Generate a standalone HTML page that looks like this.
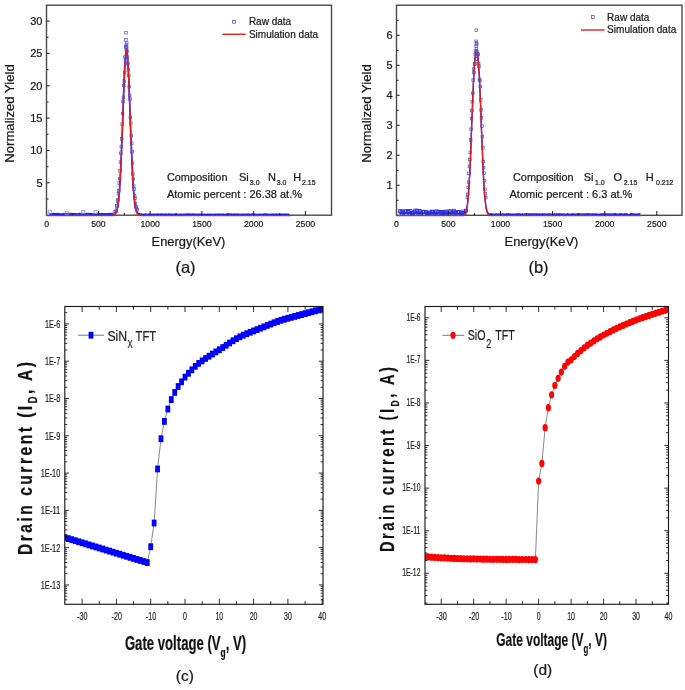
<!DOCTYPE html>
<html><head><meta charset="utf-8"><style>
html,body{margin:0;padding:0;background:#fff;}
svg{display:block;font-family:"Liberation Sans", sans-serif;will-change:transform;}
text{stroke:#222;stroke-width:0.22px;}
</style></head><body>
<svg width="685" height="690" viewBox="0 0 685 690">
<rect width="685" height="690" fill="#fff"/>
<g id="a">
<rect x="46.5" y="5.2" width="285.0" height="210.0" fill="none" stroke="#4a4a4a" stroke-width="1.4"/>
<polyline points="49.3,214.2 49.7,213.7 50.1,213.8 50.5,214.2 50.9,214.0 51.4,214.0 51.8,213.9 52.2,213.8 52.6,214.3 53.0,214.3 53.4,213.7 53.8,214.0 54.3,213.8 54.7,214.3 55.1,214.0 55.5,213.8 55.9,214.2 56.3,213.6 56.7,213.7 57.2,214.3 57.6,214.3 58.0,213.9 58.4,213.6 58.8,214.1 59.2,214.2 59.6,214.0 60.1,214.3 60.5,214.2 60.9,214.0 61.3,214.0 61.7,214.2 62.1,214.2 62.5,214.2 62.9,214.0 63.4,214.1 63.8,214.3 64.2,213.7 64.6,213.9 65.0,213.9 65.4,214.2 65.8,213.6 66.3,213.7 66.7,214.3 67.1,214.1 67.5,213.8 67.9,213.8 68.3,213.6 68.7,214.0 69.2,213.7 69.6,213.8 70.0,214.1 70.4,213.9 70.8,213.7 71.2,213.7 71.6,214.0 72.1,213.9 72.5,214.3 72.9,214.2 73.3,213.8 73.7,214.0 74.1,214.2 74.5,213.9 75.0,213.8 75.4,213.8 75.8,214.1 76.2,214.0 76.6,214.0 77.0,213.8 77.4,214.0 77.9,214.0 78.3,214.0 78.7,214.3 79.1,214.3 79.5,213.8 79.9,213.6 80.3,213.9 80.8,214.0 81.2,214.2 81.6,214.0 82.0,213.6 82.4,213.8 82.8,213.9 83.2,213.7 83.6,214.2 84.1,214.0 84.5,213.6 84.9,213.9 85.3,214.0 85.7,214.1 86.1,213.9 86.5,213.6 87.0,214.3 87.4,213.8 87.8,213.7 88.2,213.7 88.6,213.8 89.0,213.7 89.4,214.0 89.9,213.9 90.3,214.0 90.7,214.3 91.1,213.7 91.5,213.9 91.9,214.2 92.3,214.0 92.8,214.0 93.2,214.1 93.6,214.1 94.0,213.9 94.4,213.9 94.8,213.9 95.2,214.0 95.7,214.3 96.1,214.2 96.5,214.2 96.9,213.9 97.3,213.7 97.7,213.8 98.1,213.8 98.6,213.7 99.0,214.2 99.4,213.7 99.8,213.8 100.2,214.3 100.6,214.3 101.0,214.3 101.5,213.8 101.9,214.2 102.3,214.3 102.7,213.9 103.1,214.1 103.5,214.3 103.9,214.2 104.3,214.0 104.8,214.2 105.2,214.1 105.6,213.8 106.0,214.0 106.4,214.1 106.8,214.0 107.2,214.3 107.7,214.1 108.1,214.0 108.5,214.2 108.9,214.3 109.3,213.7 109.7,214.0 110.1,214.2 110.6,213.9 111.0,213.7 111.4,214.3 111.8,214.3 112.2,214.2 112.6,213.7 113.0,214.1 113.5,213.6 113.9,213.5 114.3,213.9 114.7,213.8 115.1,213.0 115.5,212.6 115.9,212.1 116.4,211.3 116.8,209.9 117.2,208.5 117.6,206.4 118.0,203.9 118.4,200.6 118.8,197.0 119.3,192.2 119.7,186.4 120.1,179.9 120.5,172.8 120.9,164.1 121.3,155.1 121.7,144.7 122.2,134.0 122.6,123.0 123.0,111.7 123.4,100.4 123.8,89.1 124.2,79.3 124.6,69.8 125.0,61.9 125.5,56.0 125.9,52.0 126.3,49.6 126.7,49.5 127.1,51.8 127.5,56.1 127.9,62.2 128.4,70.0 128.8,79.2 129.2,89.2 129.6,100.2 130.0,111.7 130.4,123.1 130.8,134.1 131.3,145.0 131.7,155.0 132.1,164.4 132.5,172.5 132.9,179.9 133.3,186.8 133.7,192.3 134.2,196.9 134.6,200.5 135.0,203.7 135.4,206.5 135.8,208.6 136.2,209.9 136.6,211.0 137.1,211.9 137.5,212.9 137.9,213.1 138.3,213.6 138.7,213.9 139.1,213.8 139.5,214.3 140.0,214.2 140.4,214.6 140.8,214.6 141.2,214.2 141.6,214.6 142.0,214.3 142.4,214.4 142.9,214.3 143.3,214.5 143.7,214.5 144.1,214.6 144.5,214.3 144.9,214.4 145.3,214.2 145.7,214.3 146.2,214.6 146.6,214.4 147.0,214.7 147.4,214.7 147.8,214.7 148.2,214.3 148.6,214.3 149.1,214.3 149.5,214.5 149.9,214.4 150.3,214.3 150.7,214.5 151.1,214.4 151.5,214.6 152.0,214.7 152.4,214.6 152.8,214.3 153.2,214.4 153.6,214.3 154.0,214.5 154.4,214.6 154.9,214.3 155.3,214.3 155.7,214.7 156.1,214.4 156.5,214.7 156.9,214.7 157.3,214.3 157.8,214.7 158.2,214.6 158.6,214.2 159.0,214.5 159.4,214.7 159.8,214.6 160.2,214.6 160.7,214.3 161.1,214.7 161.5,214.3 161.9,214.5 162.3,214.2 162.7,214.3 163.1,214.6 163.6,214.6 164.0,214.5 164.4,214.7 164.8,214.4 165.2,214.7 165.6,214.7 166.0,214.2 166.4,214.6 166.9,214.4 167.3,214.5 167.7,214.6 168.1,214.7 168.5,214.3 168.9,214.2 169.3,214.2 169.8,214.7 170.2,214.6 170.6,214.4 171.0,214.2 171.4,214.4 171.8,214.4 172.2,214.4 172.7,214.6 173.1,214.4 173.5,214.6 173.9,214.6 174.3,214.7 174.7,214.6 175.1,214.2 175.6,214.5 176.0,214.4 176.4,214.4 176.8,214.2 177.2,214.5 177.6,214.6 178.0,214.5 178.5,214.6 178.9,214.3 179.3,214.3 179.7,214.6 180.1,214.5 180.5,214.4 180.9,214.4 181.4,214.4 181.8,214.6 182.2,214.7 182.6,214.6 183.0,214.7 183.4,214.4 183.8,214.7 184.3,214.7 184.7,214.4 185.1,214.6 185.5,214.3 185.9,214.5 186.3,214.3 186.7,214.6 187.1,214.5 187.6,214.3 188.0,214.7 188.4,214.2 188.8,214.6 189.2,214.3 189.6,214.2 190.0,214.3 190.5,214.6 190.9,214.7 191.3,214.5 191.7,214.3 192.1,214.6 192.5,214.3 192.9,214.6 193.4,214.3 193.8,214.7 194.2,214.6 194.6,214.3 195.0,214.3 195.4,214.3 195.8,214.3 196.3,214.3 196.7,214.4 197.1,214.6 197.5,214.5 197.9,214.6 198.3,214.4 198.7,214.4 199.2,214.6 199.6,214.7 200.0,214.2 200.4,214.3 200.8,214.4 201.2,214.4 201.6,214.3 202.1,214.5 202.5,214.5 202.9,214.5 203.3,214.6 203.7,214.7 204.1,214.4 204.5,214.5 205.0,214.4 205.4,214.7 205.8,214.5 206.2,214.6 206.6,214.6 207.0,214.6 207.4,214.3 207.8,214.5 208.3,214.5 208.7,214.4 209.1,214.6 209.5,214.7 209.9,214.4 210.3,214.5 210.7,214.4 211.2,214.5 211.6,214.4 212.0,214.3 212.4,214.6 212.8,214.5 213.2,214.5 213.6,214.6 214.1,214.5 214.5,214.4 214.9,214.3 215.3,214.3 215.7,214.6 216.1,214.4 216.5,214.7 217.0,214.7 217.4,214.5 217.8,214.3 218.2,214.6 218.6,214.3 219.0,214.3 219.4,214.6 219.9,214.4 220.3,214.3 220.7,214.5 221.1,214.4 221.5,214.3 221.9,214.4 222.3,214.3 222.8,214.3 223.2,214.2 223.6,214.4 224.0,214.6 224.4,214.6 224.8,214.6 225.2,214.4 225.7,214.3 226.1,214.7 226.5,214.4 226.9,214.4 227.3,214.5 227.7,214.5 228.1,214.6 228.5,214.3 229.0,214.7 229.4,214.2 229.8,214.3 230.2,214.4 230.6,214.6 231.0,214.3 231.4,214.2 231.9,214.6 232.3,214.3 232.7,214.3 233.1,214.4 233.5,214.4 233.9,214.5 234.3,214.3 234.8,214.2 235.2,214.5 235.6,214.3 236.0,214.5 236.4,214.6 236.8,214.5 237.2,214.6 237.7,214.3 238.1,214.2 238.5,214.6 238.9,214.4 239.3,214.5 239.7,214.7 240.1,214.6 240.6,214.6 241.0,214.3 241.4,214.7 241.8,214.6 242.2,214.5 242.6,214.7 243.0,214.4 243.5,214.4 243.9,214.3 244.3,214.6 244.7,214.6 245.1,214.4 245.5,214.6 245.9,214.4 246.4,214.6 246.8,214.4 247.2,214.3 247.6,214.3 248.0,214.2 248.4,214.4 248.8,214.5 249.2,214.3 249.7,214.3 250.1,214.4 250.5,214.5 250.9,214.6 251.3,214.7 251.7,214.3 252.1,214.7 252.6,214.3 253.0,214.4 253.4,214.2 253.8,214.3 254.2,214.2 254.6,214.6 255.0,214.5 255.5,214.4 255.9,214.6 256.3,214.5 256.7,214.5 257.1,214.4 257.5,214.7 257.9,214.5 258.4,214.5 258.8,214.6 259.2,214.5 259.6,214.3 260.0,214.4 260.4,214.5 260.8,214.4 261.3,214.5 261.7,214.6 262.1,214.7 262.5,214.6 262.9,214.4 263.3,214.3 263.7,214.3 264.2,214.5 264.6,214.2 265.0,214.5 265.4,214.3 265.8,214.5 266.2,214.3 266.6,214.2 267.1,214.6 267.5,214.6 267.9,214.4 268.3,214.4 268.7,214.5 269.1,214.7 269.5,214.5 269.9,214.5 270.4,214.5 270.8,214.3 271.2,214.4 271.6,214.3 272.0,214.3 272.4,214.3 272.8,214.5 273.3,214.3 273.7,214.4 274.1,214.4 274.5,214.4 274.9,214.5 275.3,214.4 275.7,214.4 276.2,214.2 276.6,214.3 277.0,214.3 277.4,214.3 277.8,214.3 278.2,214.4 278.6,214.5 279.1,214.6 279.5,214.4 279.9,214.3 280.3,214.4 280.7,214.6 281.1,214.3 281.5,214.5 282.0,214.5 282.4,214.7 282.8,214.5 283.2,214.3 283.6,214.5 284.0,214.5 284.4,214.4 284.9,214.7 285.3,214.5 285.7,214.2 286.1,214.4 286.5,214.5 286.9,214.4 287.3,214.4 287.8,214.6 288.2,214.6 288.6,214.3 289.0,214.6 289.4,214.7" fill="none" stroke="#2424e0" stroke-width="1.7"/>
<rect x="48.2" y="210.3" width="3" height="3" fill="none" stroke="#9090e0" stroke-width="0.8"/>
<rect x="65.1" y="211.3" width="3" height="3" fill="none" stroke="#9090e0" stroke-width="0.8"/>
<rect x="81.8" y="210.5" width="3" height="3" fill="none" stroke="#9090e0" stroke-width="0.8"/>
<rect x="94.0" y="210.6" width="3" height="3" fill="none" stroke="#9090e0" stroke-width="0.8"/>
<rect x="113.3" y="210.3" width="3" height="3" fill="none" stroke="#9090e0" stroke-width="0.8"/>
<rect x="114.6" y="210.1" width="2.6" height="2.6" fill="none" stroke="#5050d8" stroke-width="0.7"/>
<rect x="115.1" y="208.9" width="2.6" height="2.6" fill="none" stroke="#5050d8" stroke-width="0.7"/>
<rect x="115.5" y="204.6" width="2.6" height="2.6" fill="none" stroke="#5050d8" stroke-width="0.7"/>
<rect x="115.9" y="204.7" width="2.6" height="2.6" fill="none" stroke="#5050d8" stroke-width="0.7"/>
<rect x="116.3" y="199.7" width="2.6" height="2.6" fill="none" stroke="#5050d8" stroke-width="0.7"/>
<rect x="116.7" y="198.6" width="2.6" height="2.6" fill="none" stroke="#5050d8" stroke-width="0.7"/>
<rect x="117.1" y="192.4" width="2.6" height="2.6" fill="none" stroke="#5050d8" stroke-width="0.7"/>
<rect x="117.5" y="189.4" width="2.6" height="2.6" fill="none" stroke="#5050d8" stroke-width="0.7"/>
<rect x="118.0" y="181.7" width="2.6" height="2.6" fill="none" stroke="#5050d8" stroke-width="0.7"/>
<rect x="118.4" y="177.5" width="2.6" height="2.6" fill="none" stroke="#5050d8" stroke-width="0.7"/>
<rect x="118.8" y="169.5" width="2.6" height="2.6" fill="none" stroke="#5050d8" stroke-width="0.7"/>
<rect x="119.2" y="160.8" width="2.6" height="2.6" fill="none" stroke="#5050d8" stroke-width="0.7"/>
<rect x="119.6" y="151.9" width="2.6" height="2.6" fill="none" stroke="#5050d8" stroke-width="0.7"/>
<rect x="120.0" y="145.2" width="2.6" height="2.6" fill="none" stroke="#5050d8" stroke-width="0.7"/>
<rect x="120.4" y="137.6" width="2.6" height="2.6" fill="none" stroke="#5050d8" stroke-width="0.7"/>
<rect x="120.9" y="122.8" width="2.6" height="2.6" fill="none" stroke="#5050d8" stroke-width="0.7"/>
<rect x="121.3" y="112.3" width="2.6" height="2.6" fill="none" stroke="#5050d8" stroke-width="0.7"/>
<rect x="121.7" y="100.3" width="2.6" height="2.6" fill="none" stroke="#5050d8" stroke-width="0.7"/>
<rect x="122.1" y="96.0" width="2.6" height="2.6" fill="none" stroke="#5050d8" stroke-width="0.7"/>
<rect x="122.5" y="84.2" width="2.6" height="2.6" fill="none" stroke="#5050d8" stroke-width="0.7"/>
<rect x="122.9" y="79.7" width="2.6" height="2.6" fill="none" stroke="#5050d8" stroke-width="0.7"/>
<rect x="123.3" y="71.2" width="2.6" height="2.6" fill="none" stroke="#5050d8" stroke-width="0.7"/>
<rect x="123.7" y="55.8" width="2.6" height="2.6" fill="none" stroke="#5050d8" stroke-width="0.7"/>
<rect x="124.2" y="59.7" width="2.6" height="2.6" fill="none" stroke="#5050d8" stroke-width="0.7"/>
<rect x="124.6" y="45.3" width="2.6" height="2.6" fill="none" stroke="#5050d8" stroke-width="0.7"/>
<rect x="125.0" y="48.2" width="2.6" height="2.6" fill="none" stroke="#5050d8" stroke-width="0.7"/>
<rect x="125.4" y="45.9" width="2.6" height="2.6" fill="none" stroke="#5050d8" stroke-width="0.7"/>
<rect x="125.8" y="49.8" width="2.6" height="2.6" fill="none" stroke="#5050d8" stroke-width="0.7"/>
<rect x="126.2" y="55.8" width="2.6" height="2.6" fill="none" stroke="#5050d8" stroke-width="0.7"/>
<rect x="126.6" y="62.3" width="2.6" height="2.6" fill="none" stroke="#5050d8" stroke-width="0.7"/>
<rect x="127.1" y="68.4" width="2.6" height="2.6" fill="none" stroke="#5050d8" stroke-width="0.7"/>
<rect x="127.5" y="74.3" width="2.6" height="2.6" fill="none" stroke="#5050d8" stroke-width="0.7"/>
<rect x="127.9" y="85.4" width="2.6" height="2.6" fill="none" stroke="#5050d8" stroke-width="0.7"/>
<rect x="128.3" y="94.1" width="2.6" height="2.6" fill="none" stroke="#5050d8" stroke-width="0.7"/>
<rect x="128.7" y="97.7" width="2.6" height="2.6" fill="none" stroke="#5050d8" stroke-width="0.7"/>
<rect x="129.1" y="116.1" width="2.6" height="2.6" fill="none" stroke="#5050d8" stroke-width="0.7"/>
<rect x="129.5" y="121.9" width="2.6" height="2.6" fill="none" stroke="#5050d8" stroke-width="0.7"/>
<rect x="130.0" y="134.6" width="2.6" height="2.6" fill="none" stroke="#5050d8" stroke-width="0.7"/>
<rect x="130.4" y="142.0" width="2.6" height="2.6" fill="none" stroke="#5050d8" stroke-width="0.7"/>
<rect x="130.8" y="150.6" width="2.6" height="2.6" fill="none" stroke="#5050d8" stroke-width="0.7"/>
<rect x="131.2" y="162.0" width="2.6" height="2.6" fill="none" stroke="#5050d8" stroke-width="0.7"/>
<rect x="131.6" y="172.7" width="2.6" height="2.6" fill="none" stroke="#5050d8" stroke-width="0.7"/>
<rect x="132.0" y="177.9" width="2.6" height="2.6" fill="none" stroke="#5050d8" stroke-width="0.7"/>
<rect x="132.4" y="184.8" width="2.6" height="2.6" fill="none" stroke="#5050d8" stroke-width="0.7"/>
<rect x="132.9" y="187.7" width="2.6" height="2.6" fill="none" stroke="#5050d8" stroke-width="0.7"/>
<rect x="133.3" y="194.4" width="2.6" height="2.6" fill="none" stroke="#5050d8" stroke-width="0.7"/>
<rect x="133.7" y="197.0" width="2.6" height="2.6" fill="none" stroke="#5050d8" stroke-width="0.7"/>
<rect x="134.1" y="202.1" width="2.6" height="2.6" fill="none" stroke="#5050d8" stroke-width="0.7"/>
<rect x="134.5" y="205.4" width="2.6" height="2.6" fill="none" stroke="#5050d8" stroke-width="0.7"/>
<rect x="134.9" y="205.8" width="2.6" height="2.6" fill="none" stroke="#5050d8" stroke-width="0.7"/>
<rect x="135.3" y="207.1" width="2.6" height="2.6" fill="none" stroke="#5050d8" stroke-width="0.7"/>
<rect x="135.8" y="208.6" width="2.6" height="2.6" fill="none" stroke="#5050d8" stroke-width="0.7"/>
<rect x="124.7" y="31.4" width="2.6" height="2.6" fill="none" stroke="#5050d8" stroke-width="0.7"/>
<rect x="124.6" y="38.6" width="2.6" height="2.6" fill="none" stroke="#5050d8" stroke-width="0.7"/>
<rect x="124.9" y="43.7" width="2.6" height="2.6" fill="none" stroke="#5050d8" stroke-width="0.7"/>
<rect x="125.4" y="41.8" width="2.6" height="2.6" fill="none" stroke="#5050d8" stroke-width="0.7"/>
<rect x="125.1" y="46.3" width="2.6" height="2.6" fill="none" stroke="#5050d8" stroke-width="0.7"/>
<polyline points="46.7,215.6 46.9,215.6 47.1,215.6 47.3,215.6 47.5,215.6 47.7,215.6 47.9,215.6 48.1,215.6 48.4,215.6 48.6,215.6 48.8,215.6 49.0,215.6 49.2,215.6 49.4,215.6 49.6,215.6 49.8,215.6 50.0,215.6 50.2,215.6 50.4,215.6 50.6,215.6 50.8,215.6 51.0,215.6 51.3,215.6 51.5,215.6 51.7,215.6 51.9,215.6 52.1,215.6 52.3,215.6 52.5,215.6 52.7,215.6 52.9,215.6 53.1,215.6 53.3,215.6 53.5,215.6 53.7,215.6 53.9,215.6 54.2,215.6 54.4,215.6 54.6,215.6 54.8,215.6 55.0,215.6 55.2,215.6 55.4,215.6 55.6,215.6 55.8,215.6 56.0,215.6 56.2,215.6 56.4,215.6 56.6,215.6 56.8,215.6 57.1,215.6 57.3,215.6 57.5,215.6 57.7,215.6 57.9,215.6 58.1,215.6 58.3,215.6 58.5,215.6 58.7,215.6 58.9,215.6 59.1,215.6 59.3,215.6 59.5,215.6 59.7,215.6 59.9,215.6 60.2,215.6 60.4,215.6 60.6,215.6 60.8,215.6 61.0,215.6 61.2,215.6 61.4,215.6 61.6,215.6 61.8,215.6 62.0,215.6 62.2,215.6 62.4,215.6 62.6,215.6 62.8,215.6 63.1,215.6 63.3,215.6 63.5,215.6 63.7,215.6 63.9,215.6 64.1,215.6 64.3,215.6 64.5,215.6 64.7,215.6 64.9,215.6 65.1,215.6 65.3,215.6 65.5,215.6 65.7,215.6 66.0,215.6 66.2,215.6 66.4,215.6 66.6,215.6 66.8,215.6 67.0,215.6 67.2,215.6 67.4,215.6 67.6,215.6 67.8,215.6 68.0,215.6 68.2,215.6 68.4,215.6 68.6,215.6 68.8,215.6 69.1,215.6 69.3,215.6 69.5,215.6 69.7,215.6 69.9,215.6 70.1,215.6 70.3,215.6 70.5,215.6 70.7,215.6 70.9,215.6 71.1,215.6 71.3,215.6 71.5,215.6 71.7,215.6 72.0,215.6 72.2,215.6 72.4,215.6 72.6,215.6 72.8,215.6 73.0,215.6 73.2,215.6 73.4,215.6 73.6,215.6 73.8,215.6 74.0,215.6 74.2,215.6 74.4,215.6 74.6,215.6 74.9,215.6 75.1,215.6 75.3,215.6 75.5,215.6 75.7,215.6 75.9,215.6 76.1,215.6 76.3,215.6 76.5,215.6 76.7,215.6 76.9,215.6 77.1,215.6 77.3,215.6 77.5,215.6 77.8,215.6 78.0,215.6 78.2,215.6 78.4,215.6 78.6,215.6 78.8,215.6 79.0,215.6 79.2,215.6 79.4,215.6 79.6,215.6 79.8,215.6 80.0,215.6 80.2,215.6 80.4,215.6 80.6,215.6 80.9,215.6 81.1,215.6 81.3,215.6 81.5,215.6 81.7,215.6 81.9,215.6 82.1,215.6 82.3,215.6 82.5,215.6 82.7,215.6 82.9,215.6 83.1,215.6 83.3,215.6 83.5,215.6 83.8,215.6 84.0,215.6 84.2,215.6 84.4,215.6 84.6,215.6 84.8,215.6 85.0,215.6 85.2,215.6 85.4,215.6 85.6,215.6 85.8,215.6 86.0,215.6 86.2,215.6 86.4,215.6 86.7,215.6 86.9,215.6 87.1,215.6 87.3,215.6 87.5,215.6 87.7,215.6 87.9,215.6 88.1,215.6 88.3,215.6 88.5,215.6 88.7,215.6 88.9,215.6 89.1,215.6 89.3,215.6 89.5,215.6 89.8,215.6 90.0,215.6 90.2,215.6 90.4,215.6 90.6,215.6 90.8,215.6 91.0,215.6 91.2,215.6 91.4,215.6 91.6,215.6 91.8,215.6 92.0,215.6 92.2,215.6 92.4,215.6 92.7,215.6 92.9,215.6 93.1,215.6 93.3,215.6 93.5,215.6 93.7,215.6 93.9,215.6 94.1,215.6 94.3,215.6 94.5,215.6 94.7,215.6 94.9,215.6 95.1,215.6 95.3,215.6 95.6,215.6 95.8,215.6 96.0,215.6 96.2,215.6 96.4,215.6 96.6,215.6 96.8,215.6 97.0,215.6 97.2,215.6 97.4,215.6 97.6,215.6 97.8,215.6 98.0,215.6 98.2,215.6 98.5,215.6 98.7,215.6 98.9,215.6 99.1,215.6 99.3,215.6 99.5,215.6 99.7,215.6 99.9,215.6 100.1,215.6 100.3,215.6 100.5,215.6 100.7,215.6 100.9,215.6 101.1,215.6 101.3,215.6 101.6,215.6 101.8,215.6 102.0,215.6 102.2,215.6 102.4,215.6 102.6,215.6 102.8,215.6 103.0,215.6 103.2,215.6 103.4,215.6 103.6,215.6 103.8,215.6 104.0,215.6 104.2,215.6 104.5,215.6 104.7,215.6 104.9,215.6 105.1,215.6 105.3,215.6 105.5,215.6 105.7,215.6 105.9,215.6 106.1,215.6 106.3,215.6 106.5,215.6 106.7,215.6 106.9,215.6 107.1,215.6 107.4,215.6 107.6,215.6 107.8,215.6 108.0,215.6 108.2,215.6 108.4,215.6 108.6,215.6 108.8,215.6 109.0,215.6 109.2,215.6 109.4,215.6 109.6,215.6 109.8,215.6 110.0,215.6 110.2,215.6 110.5,215.6 110.7,215.6 110.9,215.6 111.1,215.6 111.3,215.6 111.5,215.6 111.7,215.6 111.9,215.6 112.1,215.5 112.3,215.5 112.5,215.5 112.7,215.5 112.9,215.5 113.1,215.4 113.4,215.4 113.6,215.3 113.8,215.3 114.0,215.2 114.2,215.1 114.4,215.0 114.6,214.9 114.8,214.7 115.0,214.5 115.2,214.3 115.4,214.1 115.6,213.8 115.8,213.4 116.0,213.0 116.3,212.6 116.5,212.1 116.7,211.5 116.9,210.8 117.1,210.0 117.3,209.1 117.5,208.1 117.7,207.0 117.9,205.7 118.1,204.3 118.3,202.7 118.5,200.9 118.7,199.0 118.9,196.9 119.2,194.5 119.4,192.0 119.6,189.2 119.8,186.2 120.0,182.9 120.2,179.5 120.4,175.8 120.6,171.8 120.8,167.6 121.0,163.2 121.2,158.5 121.4,153.7 121.6,148.6 121.8,143.4 122.0,138.0 122.3,132.5 122.5,126.9 122.7,121.2 122.9,115.5 123.1,109.8 123.3,104.1 123.5,98.6 123.7,93.1 123.9,87.8 124.1,82.7 124.3,77.8 124.5,73.2 124.7,69.0 124.9,65.1 125.2,61.6 125.4,58.6 125.6,56.0 125.8,53.9 126.0,52.3 126.2,51.2 126.4,50.7 126.6,50.7 126.8,51.2 127.0,52.3 127.2,53.9 127.4,56.0 127.6,58.6 127.8,61.6 128.1,65.1 128.3,69.0 128.5,73.2 128.7,77.8 128.9,82.7 129.1,87.8 129.3,93.1 129.5,98.6 129.7,104.1 129.9,109.8 130.1,115.5 130.3,121.2 130.5,126.9 130.7,132.5 130.9,138.0 131.2,143.4 131.4,148.6 131.6,153.7 131.8,158.5 132.0,163.2 132.2,167.6 132.4,171.8 132.6,175.8 132.8,179.5 133.0,182.9 133.2,186.2 133.4,189.2 133.6,192.0 133.8,194.5 134.1,196.9 134.3,199.0 134.5,200.9 134.7,202.7 134.9,204.3 135.1,205.7 135.3,207.0 135.5,208.1 135.7,209.1 135.9,210.0 136.1,210.8 136.3,211.5 136.5,212.1 136.7,212.6 137.0,213.0 137.2,213.4 137.4,213.8 137.6,214.1 137.8,214.3 138.0,214.5 138.2,214.7 138.4,214.9 138.6,215.0 138.8,215.1 139.0,215.2 139.2,215.3 139.4,215.3 139.6,215.4 139.8,215.4 140.1,215.5 140.3,215.5 140.5,215.5 140.7,215.5 140.9,215.5 141.1,215.6 141.3,215.6 141.5,215.6 141.7,215.6 141.9,215.6 142.1,215.6 142.3,215.6 142.5,215.6 142.7,215.6 143.0,215.6 143.2,215.6 143.4,215.6 143.6,215.6 143.8,215.6 144.0,215.6 144.2,215.6 144.4,215.6 144.6,215.6 144.8,215.6 145.0,215.6 145.2,215.6 145.4,215.6 145.6,215.6 145.9,215.6 146.1,215.6 146.3,215.6 146.5,215.6 146.7,215.6 146.9,215.6 147.1,215.6 147.3,215.6 147.5,215.6 147.7,215.6 147.9,215.6 148.1,215.6 148.3,215.6 148.5,215.6 148.8,215.6 149.0,215.6 149.2,215.6 149.4,215.6 149.6,215.6 149.8,215.6 150.0,215.6 150.2,215.6 150.4,215.6 150.6,215.6 150.8,215.6 151.0,215.6 151.2,215.6 151.4,215.6 151.6,215.6 151.9,215.6 152.1,215.6 152.3,215.6 152.5,215.6 152.7,215.6 152.9,215.6 153.1,215.6 153.3,215.6 153.5,215.6 153.7,215.6 153.9,215.6 154.1,215.6 154.3,215.6 154.5,215.6 154.8,215.6 155.0,215.6 155.2,215.6 155.4,215.6 155.6,215.6 155.8,215.6 156.0,215.6 156.2,215.6 156.4,215.6 156.6,215.6 156.8,215.6 157.0,215.6 157.2,215.6 157.4,215.6 157.7,215.6 157.9,215.6 158.1,215.6 158.3,215.6 158.5,215.6 158.7,215.6 158.9,215.6 159.1,215.6 159.3,215.6 159.5,215.6 159.7,215.6 159.9,215.6 160.1,215.6 160.3,215.6 160.6,215.6 160.8,215.6 161.0,215.6 161.2,215.6 161.4,215.6 161.6,215.6 161.8,215.6 162.0,215.6 162.2,215.6 162.4,215.6 162.6,215.6 162.8,215.6 163.0,215.6 163.2,215.6 163.4,215.6 163.7,215.6 163.9,215.6 164.1,215.6 164.3,215.6 164.5,215.6 164.7,215.6 164.9,215.6 165.1,215.6 165.3,215.6 165.5,215.6 165.7,215.6 165.9,215.6 166.1,215.6 166.3,215.6 166.6,215.6 166.8,215.6 167.0,215.6 167.2,215.6 167.4,215.6 167.6,215.6 167.8,215.6 168.0,215.6 168.2,215.6 168.4,215.6 168.6,215.6 168.8,215.6 169.0,215.6 169.2,215.6 169.5,215.6 169.7,215.6 169.9,215.6 170.1,215.6 170.3,215.6 170.5,215.6 170.7,215.6 170.9,215.6 171.1,215.6 171.3,215.6 171.5,215.6 171.7,215.6 171.9,215.6 172.1,215.6 172.3,215.6 172.6,215.6 172.8,215.6 173.0,215.6 173.2,215.6 173.4,215.6 173.6,215.6 173.8,215.6 174.0,215.6 174.2,215.6 174.4,215.6 174.6,215.6 174.8,215.6 175.0,215.6 175.2,215.6 175.5,215.6 175.7,215.6 175.9,215.6 176.1,215.6 176.3,215.6 176.5,215.6 176.7,215.6 176.9,215.6 177.1,215.6 177.3,215.6 177.5,215.6 177.7,215.6 177.9,215.6 178.1,215.6 178.4,215.6 178.6,215.6 178.8,215.6 179.0,215.6 179.2,215.6 179.4,215.6 179.6,215.6 179.8,215.6 180.0,215.6 180.2,215.6 180.4,215.6 180.6,215.6 180.8,215.6 181.0,215.6 181.2,215.6 181.5,215.6 181.7,215.6 181.9,215.6 182.1,215.6 182.3,215.6 182.5,215.6 182.7,215.6 182.9,215.6 183.1,215.6 183.3,215.6 183.5,215.6 183.7,215.6 183.9,215.6 184.1,215.6 184.4,215.6 184.6,215.6 184.8,215.6 185.0,215.6 185.2,215.6 185.4,215.6 185.6,215.6 185.8,215.6 186.0,215.6 186.2,215.6 186.4,215.6 186.6,215.6 186.8,215.6 187.0,215.6 187.3,215.6 187.5,215.6 187.7,215.6 187.9,215.6 188.1,215.6 188.3,215.6 188.5,215.6 188.7,215.6 188.9,215.6 189.1,215.6 189.3,215.6 189.5,215.6 189.7,215.6 189.9,215.6 190.2,215.6 190.4,215.6 190.6,215.6 190.8,215.6 191.0,215.6 191.2,215.6 191.4,215.6 191.6,215.6 191.8,215.6 192.0,215.6 192.2,215.6 192.4,215.6 192.6,215.6 192.8,215.6 193.0,215.6 193.3,215.6 193.5,215.6 193.7,215.6 193.9,215.6 194.1,215.6 194.3,215.6 194.5,215.6 194.7,215.6 194.9,215.6 195.1,215.6 195.3,215.6 195.5,215.6 195.7,215.6 195.9,215.6 196.2,215.6 196.4,215.6 196.6,215.6 196.8,215.6 197.0,215.6 197.2,215.6 197.4,215.6 197.6,215.6 197.8,215.6 198.0,215.6 198.2,215.6 198.4,215.6 198.6,215.6 198.8,215.6 199.1,215.6 199.3,215.6 199.5,215.6 199.7,215.6 199.9,215.6 200.1,215.6 200.3,215.6 200.5,215.6 200.7,215.6 200.9,215.6 201.1,215.6 201.3,215.6 201.5,215.6 201.7,215.6 201.9,215.6 202.2,215.6 202.4,215.6 202.6,215.6 202.8,215.6 203.0,215.6 203.2,215.6 203.4,215.6 203.6,215.6 203.8,215.6 204.0,215.6 204.2,215.6 204.4,215.6 204.6,215.6 204.8,215.6 205.1,215.6 205.3,215.6 205.5,215.6 205.7,215.6 205.9,215.6 206.1,215.6 206.3,215.6 206.5,215.6 206.7,215.6 206.9,215.6 207.1,215.6 207.3,215.6 207.5,215.6 207.7,215.6 208.0,215.6 208.2,215.6 208.4,215.6 208.6,215.6 208.8,215.6 209.0,215.6 209.2,215.6 209.4,215.6 209.6,215.6 209.8,215.6 210.0,215.6 210.2,215.6 210.4,215.6 210.6,215.6 210.9,215.6 211.1,215.6 211.3,215.6 211.5,215.6 211.7,215.6 211.9,215.6 212.1,215.6 212.3,215.6 212.5,215.6 212.7,215.6 212.9,215.6 213.1,215.6 213.3,215.6 213.5,215.6 213.7,215.6 214.0,215.6 214.2,215.6 214.4,215.6 214.6,215.6 214.8,215.6 215.0,215.6 215.2,215.6 215.4,215.6 215.6,215.6 215.8,215.6 216.0,215.6 216.2,215.6 216.4,215.6 216.6,215.6 216.9,215.6 217.1,215.6 217.3,215.6 217.5,215.6 217.7,215.6 217.9,215.6 218.1,215.6 218.3,215.6 218.5,215.6 218.7,215.6 218.9,215.6 219.1,215.6 219.3,215.6 219.5,215.6 219.8,215.6 220.0,215.6 220.2,215.6 220.4,215.6 220.6,215.6 220.8,215.6 221.0,215.6 221.2,215.6 221.4,215.6 221.6,215.6 221.8,215.6 222.0,215.6 222.2,215.6 222.4,215.6 222.6,215.6 222.9,215.6 223.1,215.6 223.3,215.6 223.5,215.6 223.7,215.6 223.9,215.6 224.1,215.6 224.3,215.6 224.5,215.6 224.7,215.6 224.9,215.6 225.1,215.6 225.3,215.6 225.5,215.6 225.8,215.6 226.0,215.6 226.2,215.6 226.4,215.6 226.6,215.6 226.8,215.6 227.0,215.6 227.2,215.6 227.4,215.6 227.6,215.6 227.8,215.6 228.0,215.6 228.2,215.6 228.4,215.6 228.7,215.6 228.9,215.6 229.1,215.6 229.3,215.6 229.5,215.6 229.7,215.6 229.9,215.6 230.1,215.6 230.3,215.6 230.5,215.6 230.7,215.6 230.9,215.6 231.1,215.6 231.3,215.6 231.6,215.6 231.8,215.6 232.0,215.6 232.2,215.6 232.4,215.6 232.6,215.6 232.8,215.6 233.0,215.6 233.2,215.6 233.4,215.6 233.6,215.6 233.8,215.6 234.0,215.6 234.2,215.6 234.4,215.6 234.7,215.6 234.9,215.6 235.1,215.6 235.3,215.6 235.5,215.6 235.7,215.6 235.9,215.6 236.1,215.6 236.3,215.6 236.5,215.6 236.7,215.6 236.9,215.6 237.1,215.6 237.3,215.6 237.6,215.6 237.8,215.6 238.0,215.6 238.2,215.6 238.4,215.6 238.6,215.6 238.8,215.6 239.0,215.6 239.2,215.6 239.4,215.6 239.6,215.6 239.8,215.6 240.0,215.6 240.2,215.6 240.5,215.6 240.7,215.6 240.9,215.6 241.1,215.6 241.3,215.6 241.5,215.6 241.7,215.6 241.9,215.6 242.1,215.6 242.3,215.6 242.5,215.6 242.7,215.6 242.9,215.6 243.1,215.6 243.3,215.6 243.6,215.6 243.8,215.6 244.0,215.6 244.2,215.6 244.4,215.6 244.6,215.6 244.8,215.6 245.0,215.6 245.2,215.6 245.4,215.6 245.6,215.6 245.8,215.6 246.0,215.6 246.2,215.6 246.5,215.6 246.7,215.6 246.9,215.6 247.1,215.6 247.3,215.6 247.5,215.6 247.7,215.6 247.9,215.6 248.1,215.6 248.3,215.6 248.5,215.6 248.7,215.6 248.9,215.6 249.1,215.6 249.4,215.6 249.6,215.6 249.8,215.6 250.0,215.6 250.2,215.6 250.4,215.6 250.6,215.6 250.8,215.6 251.0,215.6 251.2,215.6 251.4,215.6 251.6,215.6 251.8,215.6 252.0,215.6 252.3,215.6 252.5,215.6 252.7,215.6 252.9,215.6 253.1,215.6 253.3,215.6 253.5,215.6 253.7,215.6 253.9,215.6 254.1,215.6 254.3,215.6 254.5,215.6 254.7,215.6 254.9,215.6 255.1,215.6 255.4,215.6 255.6,215.6 255.8,215.6 256.0,215.6 256.2,215.6 256.4,215.6 256.6,215.6 256.8,215.6 257.0,215.6 257.2,215.6 257.4,215.6 257.6,215.6 257.8,215.6 258.0,215.6 258.3,215.6 258.5,215.6 258.7,215.6 258.9,215.6 259.1,215.6 259.3,215.6 259.5,215.6 259.7,215.6 259.9,215.6 260.1,215.6 260.3,215.6 260.5,215.6 260.7,215.6 260.9,215.6 261.2,215.6 261.4,215.6 261.6,215.6 261.8,215.6 262.0,215.6 262.2,215.6 262.4,215.6 262.6,215.6 262.8,215.6 263.0,215.6 263.2,215.6 263.4,215.6 263.6,215.6 263.8,215.6 264.1,215.6 264.3,215.6 264.5,215.6 264.7,215.6 264.9,215.6 265.1,215.6 265.3,215.6 265.5,215.6 265.7,215.6 265.9,215.6 266.1,215.6 266.3,215.6 266.5,215.6 266.7,215.6 266.9,215.6 267.2,215.6 267.4,215.6 267.6,215.6 267.8,215.6 268.0,215.6 268.2,215.6 268.4,215.6 268.6,215.6 268.8,215.6 269.0,215.6 269.2,215.6 269.4,215.6 269.6,215.6 269.8,215.6 270.1,215.6 270.3,215.6 270.5,215.6 270.7,215.6 270.9,215.6 271.1,215.6 271.3,215.6 271.5,215.6 271.7,215.6 271.9,215.6 272.1,215.6 272.3,215.6 272.5,215.6 272.7,215.6 273.0,215.6 273.2,215.6 273.4,215.6 273.6,215.6 273.8,215.6 274.0,215.6 274.2,215.6 274.4,215.6 274.6,215.6 274.8,215.6 275.0,215.6 275.2,215.6 275.4,215.6 275.6,215.6 275.8,215.6 276.1,215.6 276.3,215.6 276.5,215.6 276.7,215.6 276.9,215.6 277.1,215.6 277.3,215.6 277.5,215.6 277.7,215.6 277.9,215.6 278.1,215.6 278.3,215.6 278.5,215.6 278.7,215.6 279.0,215.6 279.2,215.6 279.4,215.6 279.6,215.6 279.8,215.6 280.0,215.6 280.2,215.6 280.4,215.6 280.6,215.6 280.8,215.6 281.0,215.6 281.2,215.6 281.4,215.6 281.6,215.6 281.9,215.6 282.1,215.6 282.3,215.6 282.5,215.6 282.7,215.6 282.9,215.6 283.1,215.6 283.3,215.6 283.5,215.6 283.7,215.6 283.9,215.6 284.1,215.6 284.3,215.6 284.5,215.6 284.8,215.6 285.0,215.6 285.2,215.6 285.4,215.6 285.6,215.6 285.8,215.6 286.0,215.6 286.2,215.6 286.4,215.6 286.6,215.6 286.8,215.6 287.0,215.6 287.2,215.6 287.4,215.6 287.6,215.6 287.9,215.6 288.1,215.6 288.3,215.6 288.5,215.6 288.7,215.6 288.9,215.6 289.1,215.6 289.3,215.6 289.5,215.6 289.7,215.6 289.9,215.6 290.1,215.6 290.3,215.6" fill="none" stroke="#e01f1f" stroke-width="1.3"/>
<text x="46.70" y="227.30" font-size="9.8" text-anchor="middle" font-weight="normal" fill="#161616" textLength="4.85" lengthAdjust="spacingAndGlyphs">0</text>
<line x1="72.6" y1="215.2" x2="72.6" y2="213.0" stroke="#2a2a2a" stroke-width="1.1"/>
<line x1="98.5" y1="215.2" x2="98.5" y2="211.0" stroke="#2a2a2a" stroke-width="1.1"/>
<text x="98.45" y="227.30" font-size="9.8" text-anchor="middle" font-weight="normal" fill="#161616" textLength="14.549999999999999" lengthAdjust="spacingAndGlyphs">500</text>
<line x1="124.3" y1="215.2" x2="124.3" y2="213.0" stroke="#2a2a2a" stroke-width="1.1"/>
<line x1="150.2" y1="215.2" x2="150.2" y2="211.0" stroke="#2a2a2a" stroke-width="1.1"/>
<text x="150.20" y="227.30" font-size="9.8" text-anchor="middle" font-weight="normal" fill="#161616" textLength="19.4" lengthAdjust="spacingAndGlyphs">1000</text>
<line x1="176.1" y1="215.2" x2="176.1" y2="213.0" stroke="#2a2a2a" stroke-width="1.1"/>
<line x1="201.9" y1="215.2" x2="201.9" y2="211.0" stroke="#2a2a2a" stroke-width="1.1"/>
<text x="201.95" y="227.30" font-size="9.8" text-anchor="middle" font-weight="normal" fill="#161616" textLength="19.4" lengthAdjust="spacingAndGlyphs">1500</text>
<line x1="227.8" y1="215.2" x2="227.8" y2="213.0" stroke="#2a2a2a" stroke-width="1.1"/>
<line x1="253.7" y1="215.2" x2="253.7" y2="211.0" stroke="#2a2a2a" stroke-width="1.1"/>
<text x="253.70" y="227.30" font-size="9.8" text-anchor="middle" font-weight="normal" fill="#161616" textLength="19.4" lengthAdjust="spacingAndGlyphs">2000</text>
<line x1="279.6" y1="215.2" x2="279.6" y2="213.0" stroke="#2a2a2a" stroke-width="1.1"/>
<line x1="305.4" y1="215.2" x2="305.4" y2="211.0" stroke="#2a2a2a" stroke-width="1.1"/>
<text x="305.45" y="227.30" font-size="9.8" text-anchor="middle" font-weight="normal" fill="#161616" textLength="19.4" lengthAdjust="spacingAndGlyphs">2500</text>
<line x1="46.5" y1="182.8" x2="49.7" y2="182.8" stroke="#2a2a2a" stroke-width="1.1"/>
<text x="42.50" y="186.65" font-size="11" text-anchor="end" font-weight="normal" fill="#161616">5</text>
<line x1="46.5" y1="150.5" x2="49.7" y2="150.5" stroke="#2a2a2a" stroke-width="1.1"/>
<text x="42.50" y="154.30" font-size="11" text-anchor="end" font-weight="normal" fill="#161616">10</text>
<line x1="46.5" y1="118.1" x2="49.7" y2="118.1" stroke="#2a2a2a" stroke-width="1.1"/>
<text x="42.50" y="121.95" font-size="11" text-anchor="end" font-weight="normal" fill="#161616">15</text>
<line x1="46.5" y1="85.8" x2="49.7" y2="85.8" stroke="#2a2a2a" stroke-width="1.1"/>
<text x="42.50" y="89.60" font-size="11" text-anchor="end" font-weight="normal" fill="#161616">20</text>
<line x1="46.5" y1="53.4" x2="49.7" y2="53.4" stroke="#2a2a2a" stroke-width="1.1"/>
<text x="42.50" y="57.25" font-size="11" text-anchor="end" font-weight="normal" fill="#161616">25</text>
<line x1="46.5" y1="21.1" x2="49.7" y2="21.1" stroke="#2a2a2a" stroke-width="1.1"/>
<text x="42.50" y="24.90" font-size="11" text-anchor="end" font-weight="normal" fill="#161616">30</text>
<line x1="46.5" y1="199.0" x2="48.5" y2="199.0" stroke="#2a2a2a" stroke-width="1.1"/>
<line x1="46.5" y1="166.7" x2="48.5" y2="166.7" stroke="#2a2a2a" stroke-width="1.1"/>
<line x1="46.5" y1="134.3" x2="48.5" y2="134.3" stroke="#2a2a2a" stroke-width="1.1"/>
<line x1="46.5" y1="102.0" x2="48.5" y2="102.0" stroke="#2a2a2a" stroke-width="1.1"/>
<line x1="46.5" y1="69.6" x2="48.5" y2="69.6" stroke="#2a2a2a" stroke-width="1.1"/>
<line x1="46.5" y1="37.3" x2="48.5" y2="37.3" stroke="#2a2a2a" stroke-width="1.1"/>
</g>
<g id="b">
<rect x="396.5" y="5.2" width="285.5" height="210.10000000000002" fill="none" stroke="#4a4a4a" stroke-width="1.4"/>
<polyline points="399.4,213.0 399.8,213.0 400.3,214.0 400.7,213.9 401.1,213.1 401.5,213.2 401.9,213.3 402.3,213.7 402.8,213.4 403.2,213.4 403.6,213.4 404.0,213.9 404.4,213.6 404.8,213.6 405.3,213.3 405.7,213.0 406.1,213.0 406.5,213.5 406.9,213.6 407.3,213.8 407.8,214.0 408.2,214.0 408.6,213.5 409.0,213.7 409.4,213.6 409.8,213.1 410.3,213.5 410.7,213.4 411.1,213.8 411.5,214.0 411.9,213.7 412.3,213.9 412.8,213.5 413.2,213.0 413.6,213.3 414.0,213.8 414.4,213.1 414.8,213.2 415.3,213.2 415.7,213.1 416.1,213.2 416.5,213.2 416.9,213.7 417.3,213.0 417.8,213.0 418.2,213.9 418.6,213.2 419.0,213.3 419.4,213.5 419.8,213.5 420.3,213.5 420.7,213.0 421.1,213.5 421.5,213.1 421.9,213.7 422.4,213.1 422.8,213.1 423.2,213.5 423.6,213.4 424.0,213.0 424.4,213.3 424.9,213.5 425.3,213.8 425.7,213.7 426.1,213.3 426.5,213.9 426.9,213.1 427.4,213.8 427.8,213.1 428.2,213.7 428.6,213.0 429.0,213.3 429.4,213.5 429.9,213.5 430.3,213.3 430.7,213.4 431.1,213.7 431.5,213.8 431.9,213.5 432.4,213.0 432.8,213.4 433.2,214.0 433.6,213.2 434.0,213.3 434.4,213.1 434.9,213.8 435.3,213.2 435.7,214.0 436.1,213.3 436.5,213.7 436.9,213.8 437.4,213.1 437.8,213.9 438.2,213.5 438.6,213.1 439.0,213.8 439.4,213.8 439.9,213.1 440.3,213.6 440.7,213.3 441.1,214.0 441.5,213.6 441.9,213.9 442.4,213.3 442.8,214.0 443.2,213.0 443.6,214.0 444.0,213.3 444.4,214.0 444.9,213.8 445.3,213.2 445.7,213.9 446.1,213.8 446.5,213.3 446.9,213.6 447.4,214.0 447.8,213.0 448.2,213.9 448.6,214.0 449.0,213.7 449.4,213.4 449.9,213.2 450.3,213.9 450.7,213.7 451.1,214.0 451.5,213.6 451.9,213.2 452.4,213.2 452.8,213.1 453.2,213.2 453.6,213.1 454.0,213.3 454.4,213.5 454.9,213.8 455.3,213.3 455.7,213.7 456.1,213.9 456.5,213.6 456.9,213.1 457.4,213.9 457.8,213.4 458.2,213.6 458.6,213.5 459.0,213.9 459.4,213.0 459.9,213.8 460.3,213.4 460.7,213.6 461.1,214.0 461.5,213.4 461.9,213.9 462.4,213.9 462.8,213.9 463.2,213.7 463.6,213.7 464.0,213.7 464.4,213.5 464.9,212.7 465.3,212.2 465.7,211.3 466.1,210.7 466.5,209.0 466.9,207.1 467.4,204.2 467.8,200.7 468.2,196.3 468.6,191.2 469.0,185.4 469.4,178.1 469.9,169.8 470.3,161.1 470.7,151.2 471.1,140.4 471.5,129.7 471.9,118.2 472.4,107.6 472.8,97.2 473.2,87.3 473.6,78.4 474.0,70.7 474.5,64.1 474.9,59.1 475.3,55.5 475.7,52.9 476.1,52.1 476.5,51.3 477.0,51.6 477.4,52.9 477.8,55.4 478.2,59.0 478.6,64.0 479.0,70.8 479.5,78.3 479.9,87.1 480.3,97.1 480.7,107.7 481.1,118.1 481.5,129.5 482.0,140.3 482.4,150.6 482.8,160.7 483.2,170.0 483.6,177.7 484.0,185.3 484.5,191.7 484.9,196.4 485.3,201.1 485.7,204.4 486.1,206.7 486.5,208.9 487.0,210.9 487.4,211.7 487.8,212.6 488.2,213.1 488.6,213.7 489.0,213.7 489.5,214.2 489.9,214.2 490.3,214.2 490.7,213.8 491.1,214.5 491.5,214.0 492.0,214.4 492.4,214.2 492.8,214.3 493.2,214.2 493.6,214.0 494.0,214.3 494.5,214.5 494.9,214.5 495.3,214.5 495.7,214.0 496.1,214.1 496.5,213.9 497.0,214.1 497.4,214.6 497.8,214.1 498.2,214.0 498.6,214.1 499.0,214.2 499.5,214.3 499.9,214.3 500.3,214.0 500.7,214.4 501.1,214.2 501.5,214.2 502.0,213.9 502.4,214.0 502.8,213.9 503.2,214.0 503.6,214.4 504.0,214.4 504.5,214.2 504.9,214.4 505.3,214.3 505.7,214.1 506.1,213.9 506.5,214.2 507.0,214.0 507.4,214.5 507.8,214.3 508.2,213.9 508.6,214.5 509.0,214.3 509.5,214.5 509.9,214.5 510.3,213.9 510.7,213.9 511.1,214.1 511.5,214.5 512.0,214.4 512.4,214.4 512.8,214.1 513.2,214.1 513.6,214.3 514.0,214.2 514.5,214.5 514.9,214.2 515.3,213.9 515.7,214.0 516.1,214.5 516.5,214.2 517.0,214.1 517.4,214.4 517.8,213.9 518.2,214.2 518.6,214.1 519.0,214.3 519.5,213.9 519.9,214.0 520.3,214.2 520.7,214.5 521.1,214.3 521.5,214.6 522.0,214.2 522.4,213.9 522.8,214.5 523.2,214.2 523.6,214.2 524.0,214.3 524.5,214.1 524.9,213.9 525.3,214.1 525.7,214.2 526.1,213.9 526.5,214.3 527.0,214.0 527.4,214.1 527.8,214.0 528.2,214.0 528.6,214.4 529.1,214.1 529.5,214.3 529.9,214.1 530.3,213.9 530.7,214.1 531.1,214.6 531.6,214.2 532.0,214.1 532.4,213.9 532.8,214.1 533.2,214.0 533.6,214.6 534.1,213.9 534.5,214.1 534.9,214.1 535.3,213.9 535.7,213.9 536.1,214.5 536.6,214.0 537.0,214.0 537.4,214.4 537.8,214.0 538.2,214.2 538.6,214.4 539.1,214.0 539.5,214.5 539.9,214.1 540.3,214.3 540.7,214.4 541.1,214.2 541.6,214.2 542.0,214.4 542.4,213.9 542.8,214.5 543.2,214.6 543.6,214.2 544.1,214.0 544.5,214.1 544.9,214.0 545.3,214.2 545.7,214.1 546.1,214.3 546.6,214.4 547.0,214.2 547.4,214.6 547.8,214.5 548.2,214.0 548.6,214.5 549.1,214.0 549.5,214.0 549.9,214.3 550.3,214.1 550.7,214.0 551.1,214.0 551.6,214.5 552.0,214.5 552.4,214.3 552.8,214.2 553.2,214.4 553.6,214.6 554.1,214.2 554.5,213.9 554.9,214.3 555.3,214.2 555.7,214.3 556.1,214.3 556.6,214.0 557.0,214.4 557.4,214.1 557.8,214.2 558.2,214.2 558.6,213.9 559.1,214.5 559.5,214.0 559.9,214.4 560.3,214.1 560.7,214.0 561.1,214.1 561.6,214.3 562.0,214.0 562.4,214.5 562.8,214.1 563.2,214.3 563.6,214.2 564.1,214.0 564.5,214.0 564.9,214.1 565.3,214.4 565.7,214.4 566.1,214.3 566.6,214.4 567.0,214.4 567.4,213.9 567.8,214.5 568.2,214.0 568.6,214.3 569.1,214.3 569.5,214.4 569.9,214.5 570.3,214.3 570.7,214.5 571.1,214.3 571.6,214.4 572.0,213.9 572.4,213.9 572.8,214.3 573.2,214.1 573.6,213.9 574.1,214.3 574.5,214.5 574.9,214.4 575.3,214.4 575.7,214.1 576.1,214.3 576.6,214.3 577.0,214.0 577.4,214.4 577.8,214.0 578.2,214.1 578.6,214.3 579.1,214.0 579.5,214.3 579.9,213.9 580.3,213.9 580.7,214.2 581.2,214.1 581.6,213.9 582.0,214.0 582.4,214.0 582.8,214.0 583.2,213.9 583.7,214.0 584.1,213.9 584.5,214.4 584.9,214.1 585.3,214.1 585.7,214.3 586.2,214.3 586.6,214.5 587.0,213.9 587.4,214.3 587.8,214.2 588.2,213.9 588.7,214.4 589.1,213.9 589.5,214.5 589.9,214.6 590.3,214.3 590.7,214.3 591.2,213.9 591.6,213.9 592.0,214.0 592.4,214.3 592.8,214.2 593.2,214.4 593.7,214.0 594.1,214.3 594.5,214.4 594.9,214.1 595.3,214.5 595.7,214.4 596.2,213.9 596.6,214.5 597.0,214.5 597.4,214.4 597.8,214.4 598.2,214.3 598.7,214.4 599.1,214.3 599.5,214.4 599.9,214.4 600.3,214.1 600.7,214.3 601.2,214.3 601.6,214.0 602.0,214.5 602.4,214.5 602.8,214.0 603.2,214.3 603.7,214.0 604.1,214.5 604.5,214.2 604.9,214.0 605.3,214.3 605.7,214.0 606.2,214.1 606.6,214.3 607.0,213.9 607.4,214.3 607.8,214.2 608.2,214.1 608.7,214.4 609.1,214.0 609.5,214.1 609.9,214.2 610.3,214.2 610.7,213.9 611.2,213.9 611.6,214.0 612.0,214.3 612.4,214.3 612.8,214.2 613.2,214.5 613.7,214.5 614.1,213.9 614.5,214.5 614.9,213.9 615.3,214.1 615.7,213.9 616.2,214.5 616.6,214.4 617.0,214.0 617.4,214.6 617.8,214.5 618.2,214.3 618.7,214.5 619.1,214.5 619.5,214.1 619.9,214.5 620.3,213.9 620.7,214.1 621.2,214.5 621.6,213.9 622.0,214.4 622.4,214.2 622.8,214.2 623.2,214.5 623.7,214.2 624.1,214.5 624.5,214.4 624.9,213.9 625.3,214.0 625.7,214.2 626.2,214.1 626.6,213.9 627.0,214.5 627.4,214.2 627.8,214.5 628.2,214.5 628.7,214.5 629.1,214.4 629.5,214.5 629.9,214.4 630.3,214.3 630.8,214.1 631.2,214.0 631.6,213.9 632.0,214.1 632.4,214.2 632.8,213.9 633.3,214.5 633.7,214.5 634.1,214.0 634.5,214.1 634.9,214.4 635.3,214.3 635.8,214.4 636.2,214.3 636.6,214.3 637.0,214.3 637.4,214.0 637.8,214.0 638.3,214.2 638.7,214.2 639.1,214.4 639.5,214.0 639.9,213.9 640.3,214.4" fill="none" stroke="#2424e0" stroke-width="1.4"/>
<rect x="398.3" y="209.8" width="3" height="3" fill="none" stroke="#2a2ae0" stroke-width="0.8"/>
<rect x="399.9" y="209.9" width="3" height="3" fill="none" stroke="#2a2ae0" stroke-width="0.8"/>
<rect x="400.8" y="210.2" width="3" height="3" fill="none" stroke="#2a2ae0" stroke-width="0.8"/>
<rect x="401.8" y="211.2" width="3" height="3" fill="none" stroke="#2a2ae0" stroke-width="0.8"/>
<rect x="403.2" y="209.9" width="3" height="3" fill="none" stroke="#2a2ae0" stroke-width="0.8"/>
<rect x="404.7" y="209.7" width="3" height="3" fill="none" stroke="#2a2ae0" stroke-width="0.8"/>
<rect x="406.3" y="210.4" width="3" height="3" fill="none" stroke="#2a2ae0" stroke-width="0.8"/>
<rect x="407.2" y="209.6" width="3" height="3" fill="none" stroke="#2a2ae0" stroke-width="0.8"/>
<rect x="408.9" y="209.4" width="3" height="3" fill="none" stroke="#2a2ae0" stroke-width="0.8"/>
<rect x="410.3" y="211.6" width="3" height="3" fill="none" stroke="#2a2ae0" stroke-width="0.8"/>
<rect x="411.4" y="211.4" width="3" height="3" fill="none" stroke="#2a2ae0" stroke-width="0.8"/>
<rect x="412.9" y="210.2" width="3" height="3" fill="none" stroke="#2a2ae0" stroke-width="0.8"/>
<rect x="413.9" y="209.1" width="3" height="3" fill="none" stroke="#2a2ae0" stroke-width="0.8"/>
<rect x="415.7" y="209.2" width="3" height="3" fill="none" stroke="#2a2ae0" stroke-width="0.8"/>
<rect x="417.1" y="210.9" width="3" height="3" fill="none" stroke="#2a2ae0" stroke-width="0.8"/>
<rect x="418.1" y="209.5" width="3" height="3" fill="none" stroke="#2a2ae0" stroke-width="0.8"/>
<rect x="419.7" y="211.0" width="3" height="3" fill="none" stroke="#2a2ae0" stroke-width="0.8"/>
<rect x="421.5" y="210.2" width="3" height="3" fill="none" stroke="#2a2ae0" stroke-width="0.8"/>
<rect x="422.7" y="210.6" width="3" height="3" fill="none" stroke="#2a2ae0" stroke-width="0.8"/>
<rect x="424.3" y="210.5" width="3" height="3" fill="none" stroke="#2a2ae0" stroke-width="0.8"/>
<rect x="425.8" y="211.4" width="3" height="3" fill="none" stroke="#2a2ae0" stroke-width="0.8"/>
<rect x="427.4" y="211.0" width="3" height="3" fill="none" stroke="#2a2ae0" stroke-width="0.8"/>
<rect x="429.2" y="211.1" width="3" height="3" fill="none" stroke="#2a2ae0" stroke-width="0.8"/>
<rect x="430.4" y="210.2" width="3" height="3" fill="none" stroke="#2a2ae0" stroke-width="0.8"/>
<rect x="431.6" y="210.3" width="3" height="3" fill="none" stroke="#2a2ae0" stroke-width="0.8"/>
<rect x="433.4" y="211.2" width="3" height="3" fill="none" stroke="#2a2ae0" stroke-width="0.8"/>
<rect x="435.1" y="209.8" width="3" height="3" fill="none" stroke="#2a2ae0" stroke-width="0.8"/>
<rect x="436.8" y="210.5" width="3" height="3" fill="none" stroke="#2a2ae0" stroke-width="0.8"/>
<rect x="438.1" y="210.8" width="3" height="3" fill="none" stroke="#2a2ae0" stroke-width="0.8"/>
<rect x="439.4" y="211.0" width="3" height="3" fill="none" stroke="#2a2ae0" stroke-width="0.8"/>
<rect x="440.4" y="210.4" width="3" height="3" fill="none" stroke="#2a2ae0" stroke-width="0.8"/>
<rect x="441.4" y="210.4" width="3" height="3" fill="none" stroke="#2a2ae0" stroke-width="0.8"/>
<rect x="442.9" y="210.9" width="3" height="3" fill="none" stroke="#2a2ae0" stroke-width="0.8"/>
<rect x="443.9" y="210.1" width="3" height="3" fill="none" stroke="#2a2ae0" stroke-width="0.8"/>
<rect x="445.6" y="211.1" width="3" height="3" fill="none" stroke="#2a2ae0" stroke-width="0.8"/>
<rect x="447.1" y="209.9" width="3" height="3" fill="none" stroke="#2a2ae0" stroke-width="0.8"/>
<rect x="448.9" y="209.8" width="3" height="3" fill="none" stroke="#2a2ae0" stroke-width="0.8"/>
<rect x="450.0" y="211.2" width="3" height="3" fill="none" stroke="#2a2ae0" stroke-width="0.8"/>
<rect x="451.7" y="210.9" width="3" height="3" fill="none" stroke="#2a2ae0" stroke-width="0.8"/>
<rect x="452.5" y="209.3" width="3" height="3" fill="none" stroke="#2a2ae0" stroke-width="0.8"/>
<rect x="453.6" y="210.9" width="3" height="3" fill="none" stroke="#2a2ae0" stroke-width="0.8"/>
<rect x="454.7" y="211.0" width="3" height="3" fill="none" stroke="#2a2ae0" stroke-width="0.8"/>
<rect x="456.3" y="210.8" width="3" height="3" fill="none" stroke="#2a2ae0" stroke-width="0.8"/>
<rect x="457.6" y="210.6" width="3" height="3" fill="none" stroke="#2a2ae0" stroke-width="0.8"/>
<rect x="459.3" y="211.7" width="3" height="3" fill="none" stroke="#2a2ae0" stroke-width="0.8"/>
<rect x="460.8" y="211.4" width="3" height="3" fill="none" stroke="#2a2ae0" stroke-width="0.8"/>
<rect x="461.8" y="210.1" width="3" height="3" fill="none" stroke="#2a2ae0" stroke-width="0.8"/>
<rect x="463.0" y="211.6" width="3" height="3" fill="none" stroke="#2a2ae0" stroke-width="0.8"/>
<rect x="464.4" y="209.2" width="3" height="3" fill="none" stroke="#2a2ae0" stroke-width="0.8"/>
<rect x="466.1" y="196.2" width="2.6" height="2.6" fill="none" stroke="#5050d8" stroke-width="0.7"/>
<rect x="466.5" y="193.0" width="2.6" height="2.6" fill="none" stroke="#5050d8" stroke-width="0.7"/>
<rect x="466.9" y="186.1" width="2.6" height="2.6" fill="none" stroke="#5050d8" stroke-width="0.7"/>
<rect x="467.3" y="180.9" width="2.6" height="2.6" fill="none" stroke="#5050d8" stroke-width="0.7"/>
<rect x="467.7" y="172.1" width="2.6" height="2.6" fill="none" stroke="#5050d8" stroke-width="0.7"/>
<rect x="468.1" y="165.1" width="2.6" height="2.6" fill="none" stroke="#5050d8" stroke-width="0.7"/>
<rect x="468.6" y="158.2" width="2.6" height="2.6" fill="none" stroke="#5050d8" stroke-width="0.7"/>
<rect x="469.0" y="151.1" width="2.6" height="2.6" fill="none" stroke="#5050d8" stroke-width="0.7"/>
<rect x="469.4" y="138.6" width="2.6" height="2.6" fill="none" stroke="#5050d8" stroke-width="0.7"/>
<rect x="469.8" y="127.9" width="2.6" height="2.6" fill="none" stroke="#5050d8" stroke-width="0.7"/>
<rect x="470.2" y="117.2" width="2.6" height="2.6" fill="none" stroke="#5050d8" stroke-width="0.7"/>
<rect x="470.6" y="109.2" width="2.6" height="2.6" fill="none" stroke="#5050d8" stroke-width="0.7"/>
<rect x="471.1" y="100.5" width="2.6" height="2.6" fill="none" stroke="#5050d8" stroke-width="0.7"/>
<rect x="471.5" y="92.0" width="2.6" height="2.6" fill="none" stroke="#5050d8" stroke-width="0.7"/>
<rect x="471.9" y="78.8" width="2.6" height="2.6" fill="none" stroke="#5050d8" stroke-width="0.7"/>
<rect x="472.3" y="67.8" width="2.6" height="2.6" fill="none" stroke="#5050d8" stroke-width="0.7"/>
<rect x="472.7" y="71.5" width="2.6" height="2.6" fill="none" stroke="#5050d8" stroke-width="0.7"/>
<rect x="473.2" y="62.7" width="2.6" height="2.6" fill="none" stroke="#5050d8" stroke-width="0.7"/>
<rect x="473.6" y="62.4" width="2.6" height="2.6" fill="none" stroke="#5050d8" stroke-width="0.7"/>
<rect x="474.0" y="53.3" width="2.6" height="2.6" fill="none" stroke="#5050d8" stroke-width="0.7"/>
<rect x="474.4" y="50.9" width="2.6" height="2.6" fill="none" stroke="#5050d8" stroke-width="0.7"/>
<rect x="474.8" y="49.5" width="2.6" height="2.6" fill="none" stroke="#5050d8" stroke-width="0.7"/>
<rect x="475.2" y="57.7" width="2.6" height="2.6" fill="none" stroke="#5050d8" stroke-width="0.7"/>
<rect x="475.7" y="57.6" width="2.6" height="2.6" fill="none" stroke="#5050d8" stroke-width="0.7"/>
<rect x="476.1" y="54.7" width="2.6" height="2.6" fill="none" stroke="#5050d8" stroke-width="0.7"/>
<rect x="476.5" y="52.5" width="2.6" height="2.6" fill="none" stroke="#5050d8" stroke-width="0.7"/>
<rect x="476.9" y="53.2" width="2.6" height="2.6" fill="none" stroke="#5050d8" stroke-width="0.7"/>
<rect x="477.3" y="62.2" width="2.6" height="2.6" fill="none" stroke="#5050d8" stroke-width="0.7"/>
<rect x="477.7" y="65.1" width="2.6" height="2.6" fill="none" stroke="#5050d8" stroke-width="0.7"/>
<rect x="478.2" y="78.0" width="2.6" height="2.6" fill="none" stroke="#5050d8" stroke-width="0.7"/>
<rect x="478.6" y="79.3" width="2.6" height="2.6" fill="none" stroke="#5050d8" stroke-width="0.7"/>
<rect x="479.0" y="85.3" width="2.6" height="2.6" fill="none" stroke="#5050d8" stroke-width="0.7"/>
<rect x="479.4" y="98.6" width="2.6" height="2.6" fill="none" stroke="#5050d8" stroke-width="0.7"/>
<rect x="479.8" y="108.6" width="2.6" height="2.6" fill="none" stroke="#5050d8" stroke-width="0.7"/>
<rect x="480.2" y="116.5" width="2.6" height="2.6" fill="none" stroke="#5050d8" stroke-width="0.7"/>
<rect x="480.7" y="124.9" width="2.6" height="2.6" fill="none" stroke="#5050d8" stroke-width="0.7"/>
<rect x="481.1" y="135.3" width="2.6" height="2.6" fill="none" stroke="#5050d8" stroke-width="0.7"/>
<rect x="481.5" y="146.6" width="2.6" height="2.6" fill="none" stroke="#5050d8" stroke-width="0.7"/>
<rect x="481.9" y="160.1" width="2.6" height="2.6" fill="none" stroke="#5050d8" stroke-width="0.7"/>
<rect x="482.3" y="166.4" width="2.6" height="2.6" fill="none" stroke="#5050d8" stroke-width="0.7"/>
<rect x="482.7" y="171.8" width="2.6" height="2.6" fill="none" stroke="#5050d8" stroke-width="0.7"/>
<rect x="483.2" y="179.3" width="2.6" height="2.6" fill="none" stroke="#5050d8" stroke-width="0.7"/>
<rect x="483.6" y="188.0" width="2.6" height="2.6" fill="none" stroke="#5050d8" stroke-width="0.7"/>
<rect x="484.0" y="192.6" width="2.6" height="2.6" fill="none" stroke="#5050d8" stroke-width="0.7"/>
<rect x="484.4" y="196.3" width="2.6" height="2.6" fill="none" stroke="#5050d8" stroke-width="0.7"/>
<rect x="475.0" y="28.9" width="2.6" height="2.6" fill="none" stroke="#5050d8" stroke-width="0.7"/>
<rect x="474.9" y="40.0" width="2.6" height="2.6" fill="none" stroke="#5050d8" stroke-width="0.7"/>
<rect x="475.2" y="41.5" width="2.6" height="2.6" fill="none" stroke="#5050d8" stroke-width="0.7"/>
<rect x="474.8" y="44.5" width="2.6" height="2.6" fill="none" stroke="#5050d8" stroke-width="0.7"/>
<rect x="475.4" y="43.0" width="2.6" height="2.6" fill="none" stroke="#5050d8" stroke-width="0.7"/>
<rect x="475.1" y="47.5" width="2.6" height="2.6" fill="none" stroke="#5050d8" stroke-width="0.7"/>
<rect x="475.5" y="50.5" width="2.6" height="2.6" fill="none" stroke="#5050d8" stroke-width="0.7"/>
<polyline points="396.3,215.7 396.5,215.7 396.7,215.7 396.9,215.7 397.1,215.7 397.3,215.7 397.6,215.7 397.8,215.7 398.0,215.7 398.2,215.7 398.4,215.7 398.6,215.7 398.8,215.7 399.0,215.7 399.2,215.7 399.4,215.7 399.6,215.7 399.8,215.7 400.1,215.7 400.3,215.7 400.5,215.7 400.7,215.7 400.9,215.7 401.1,215.7 401.3,215.7 401.5,215.7 401.7,215.7 401.9,215.7 402.1,215.7 402.3,215.7 402.6,215.7 402.8,215.7 403.0,215.7 403.2,215.7 403.4,215.7 403.6,215.7 403.8,215.7 404.0,215.7 404.2,215.7 404.4,215.7 404.6,215.7 404.8,215.7 405.1,215.7 405.3,215.7 405.5,215.7 405.7,215.7 405.9,215.7 406.1,215.7 406.3,215.7 406.5,215.7 406.7,215.7 406.9,215.7 407.1,215.7 407.3,215.7 407.6,215.7 407.8,215.7 408.0,215.7 408.2,215.7 408.4,215.7 408.6,215.7 408.8,215.7 409.0,215.7 409.2,215.7 409.4,215.7 409.6,215.7 409.8,215.7 410.1,215.7 410.3,215.7 410.5,215.7 410.7,215.7 410.9,215.7 411.1,215.7 411.3,215.7 411.5,215.7 411.7,215.7 411.9,215.7 412.1,215.7 412.3,215.7 412.6,215.7 412.8,215.7 413.0,215.7 413.2,215.7 413.4,215.7 413.6,215.7 413.8,215.7 414.0,215.7 414.2,215.7 414.4,215.7 414.6,215.7 414.8,215.7 415.1,215.7 415.3,215.7 415.5,215.7 415.7,215.7 415.9,215.7 416.1,215.7 416.3,215.7 416.5,215.7 416.7,215.7 416.9,215.7 417.1,215.7 417.3,215.7 417.6,215.7 417.8,215.7 418.0,215.7 418.2,215.7 418.4,215.7 418.6,215.7 418.8,215.7 419.0,215.7 419.2,215.7 419.4,215.7 419.6,215.7 419.8,215.7 420.1,215.7 420.3,215.7 420.5,215.7 420.7,215.7 420.9,215.7 421.1,215.7 421.3,215.7 421.5,215.7 421.7,215.7 421.9,215.7 422.1,215.7 422.4,215.7 422.6,215.7 422.8,215.7 423.0,215.7 423.2,215.7 423.4,215.7 423.6,215.7 423.8,215.7 424.0,215.7 424.2,215.7 424.4,215.7 424.6,215.7 424.9,215.7 425.1,215.7 425.3,215.7 425.5,215.7 425.7,215.7 425.9,215.7 426.1,215.7 426.3,215.7 426.5,215.7 426.7,215.7 426.9,215.7 427.1,215.7 427.4,215.7 427.6,215.7 427.8,215.7 428.0,215.7 428.2,215.7 428.4,215.7 428.6,215.7 428.8,215.7 429.0,215.7 429.2,215.7 429.4,215.7 429.6,215.7 429.9,215.7 430.1,215.7 430.3,215.7 430.5,215.7 430.7,215.7 430.9,215.7 431.1,215.7 431.3,215.7 431.5,215.7 431.7,215.7 431.9,215.7 432.1,215.7 432.4,215.7 432.6,215.7 432.8,215.7 433.0,215.7 433.2,215.7 433.4,215.7 433.6,215.7 433.8,215.7 434.0,215.7 434.2,215.7 434.4,215.7 434.6,215.7 434.9,215.7 435.1,215.7 435.3,215.7 435.5,215.7 435.7,215.7 435.9,215.7 436.1,215.7 436.3,215.7 436.5,215.7 436.7,215.7 436.9,215.7 437.1,215.7 437.4,215.7 437.6,215.7 437.8,215.7 438.0,215.7 438.2,215.7 438.4,215.7 438.6,215.7 438.8,215.7 439.0,215.7 439.2,215.7 439.4,215.7 439.6,215.7 439.9,215.7 440.1,215.7 440.3,215.7 440.5,215.7 440.7,215.7 440.9,215.7 441.1,215.7 441.3,215.7 441.5,215.7 441.7,215.7 441.9,215.7 442.1,215.7 442.4,215.7 442.6,215.7 442.8,215.7 443.0,215.7 443.2,215.7 443.4,215.7 443.6,215.7 443.8,215.7 444.0,215.7 444.2,215.7 444.4,215.7 444.6,215.7 444.9,215.7 445.1,215.7 445.3,215.7 445.5,215.7 445.7,215.7 445.9,215.7 446.1,215.7 446.3,215.7 446.5,215.7 446.7,215.7 446.9,215.7 447.1,215.7 447.4,215.7 447.6,215.7 447.8,215.7 448.0,215.7 448.2,215.7 448.4,215.7 448.6,215.7 448.8,215.7 449.0,215.7 449.2,215.7 449.4,215.7 449.7,215.7 449.9,215.7 450.1,215.7 450.3,215.7 450.5,215.7 450.7,215.7 450.9,215.7 451.1,215.7 451.3,215.7 451.5,215.7 451.7,215.7 451.9,215.7 452.2,215.7 452.4,215.7 452.6,215.7 452.8,215.7 453.0,215.7 453.2,215.7 453.4,215.7 453.6,215.7 453.8,215.7 454.0,215.7 454.2,215.7 454.4,215.7 454.7,215.7 454.9,215.7 455.1,215.7 455.3,215.7 455.5,215.7 455.7,215.7 455.9,215.7 456.1,215.7 456.3,215.7 456.5,215.7 456.7,215.7 456.9,215.7 457.2,215.7 457.4,215.7 457.6,215.7 457.8,215.7 458.0,215.7 458.2,215.7 458.4,215.7 458.6,215.7 458.8,215.7 459.0,215.7 459.2,215.7 459.4,215.7 459.7,215.7 459.9,215.7 460.1,215.7 460.3,215.7 460.5,215.7 460.7,215.7 460.9,215.7 461.1,215.7 461.3,215.7 461.5,215.7 461.7,215.7 461.9,215.7 462.2,215.7 462.4,215.6 462.6,215.6 462.8,215.6 463.0,215.6 463.2,215.5 463.4,215.5 463.6,215.4 463.8,215.3 464.0,215.2 464.2,215.1 464.4,215.0 464.7,214.8 464.9,214.6 465.1,214.3 465.3,214.0 465.5,213.6 465.7,213.2 465.9,212.6 466.1,212.0 466.3,211.3 466.5,210.5 466.7,209.5 466.9,208.4 467.2,207.1 467.4,205.7 467.6,204.1 467.8,202.3 468.0,200.3 468.2,198.0 468.4,195.5 468.6,192.8 468.8,189.9 469.0,186.7 469.2,183.2 469.4,179.5 469.7,175.5 469.9,171.3 470.1,166.9 470.3,162.2 470.5,157.4 470.7,152.3 470.9,147.2 471.1,141.8 471.3,136.4 471.5,130.9 471.7,125.4 471.9,119.8 472.2,114.3 472.4,108.9 472.6,103.6 472.8,98.4 473.0,93.4 473.2,88.6 473.4,84.0 473.6,79.7 473.8,75.7 474.0,72.0 474.2,68.6 474.5,65.5 474.7,62.9 474.9,60.5 475.1,58.5 475.3,56.9 475.5,55.5 475.7,54.5 475.9,53.8 476.1,53.4 476.3,53.2 476.5,53.1 476.7,53.2 477.0,53.4 477.2,53.8 477.4,54.5 477.6,55.5 477.8,56.9 478.0,58.5 478.2,60.5 478.4,62.9 478.6,65.5 478.8,68.6 479.0,72.0 479.2,75.7 479.5,79.7 479.7,84.0 479.9,88.6 480.1,93.4 480.3,98.4 480.5,103.6 480.7,108.9 480.9,114.3 481.1,119.8 481.3,125.4 481.5,130.9 481.7,136.4 482.0,141.8 482.2,147.2 482.4,152.3 482.6,157.4 482.8,162.2 483.0,166.9 483.2,171.3 483.4,175.5 483.6,179.5 483.8,183.2 484.0,186.7 484.2,189.9 484.5,192.8 484.7,195.5 484.9,198.0 485.1,200.3 485.3,202.3 485.5,204.1 485.7,205.7 485.9,207.1 486.1,208.4 486.3,209.5 486.5,210.5 486.7,211.3 487.0,212.0 487.2,212.6 487.4,213.2 487.6,213.6 487.8,214.0 488.0,214.3 488.2,214.6 488.4,214.8 488.6,215.0 488.8,215.1 489.0,215.2 489.2,215.3 489.5,215.4 489.7,215.5 489.9,215.5 490.1,215.6 490.3,215.6 490.5,215.6 490.7,215.6 490.9,215.7 491.1,215.7 491.3,215.7 491.5,215.7 491.7,215.7 492.0,215.7 492.2,215.7 492.4,215.7 492.6,215.7 492.8,215.7 493.0,215.7 493.2,215.7 493.4,215.7 493.6,215.7 493.8,215.7 494.0,215.7 494.2,215.7 494.5,215.7 494.7,215.7 494.9,215.7 495.1,215.7 495.3,215.7 495.5,215.7 495.7,215.7 495.9,215.7 496.1,215.7 496.3,215.7 496.5,215.7 496.7,215.7 497.0,215.7 497.2,215.7 497.4,215.7 497.6,215.7 497.8,215.7 498.0,215.7 498.2,215.7 498.4,215.7 498.6,215.7 498.8,215.7 499.0,215.7 499.2,215.7 499.5,215.7 499.7,215.7 499.9,215.7 500.1,215.7 500.3,215.7 500.5,215.7 500.7,215.7 500.9,215.7 501.1,215.7 501.3,215.7 501.5,215.7 501.8,215.7 502.0,215.7 502.2,215.7 502.4,215.7 502.6,215.7 502.8,215.7 503.0,215.7 503.2,215.7 503.4,215.7 503.6,215.7 503.8,215.7 504.0,215.7 504.3,215.7 504.5,215.7 504.7,215.7 504.9,215.7 505.1,215.7 505.3,215.7 505.5,215.7 505.7,215.7 505.9,215.7 506.1,215.7 506.3,215.7 506.5,215.7 506.8,215.7 507.0,215.7 507.2,215.7 507.4,215.7 507.6,215.7 507.8,215.7 508.0,215.7 508.2,215.7 508.4,215.7 508.6,215.7 508.8,215.7 509.0,215.7 509.3,215.7 509.5,215.7 509.7,215.7 509.9,215.7 510.1,215.7 510.3,215.7 510.5,215.7 510.7,215.7 510.9,215.7 511.1,215.7 511.3,215.7 511.5,215.7 511.8,215.7 512.0,215.7 512.2,215.7 512.4,215.7 512.6,215.7 512.8,215.7 513.0,215.7 513.2,215.7 513.4,215.7 513.6,215.7 513.8,215.7 514.0,215.7 514.3,215.7 514.5,215.7 514.7,215.7 514.9,215.7 515.1,215.7 515.3,215.7 515.5,215.7 515.7,215.7 515.9,215.7 516.1,215.7 516.3,215.7 516.5,215.7 516.8,215.7 517.0,215.7 517.2,215.7 517.4,215.7 517.6,215.7 517.8,215.7 518.0,215.7 518.2,215.7 518.4,215.7 518.6,215.7 518.8,215.7 519.0,215.7 519.3,215.7 519.5,215.7 519.7,215.7 519.9,215.7 520.1,215.7 520.3,215.7 520.5,215.7 520.7,215.7 520.9,215.7 521.1,215.7 521.3,215.7 521.5,215.7 521.8,215.7 522.0,215.7 522.2,215.7 522.4,215.7 522.6,215.7 522.8,215.7 523.0,215.7 523.2,215.7 523.4,215.7 523.6,215.7 523.8,215.7 524.0,215.7 524.3,215.7 524.5,215.7 524.7,215.7 524.9,215.7 525.1,215.7 525.3,215.7 525.5,215.7 525.7,215.7 525.9,215.7 526.1,215.7 526.3,215.7 526.5,215.7 526.8,215.7 527.0,215.7 527.2,215.7 527.4,215.7 527.6,215.7 527.8,215.7 528.0,215.7 528.2,215.7 528.4,215.7 528.6,215.7 528.8,215.7 529.1,215.7 529.3,215.7 529.5,215.7 529.7,215.7 529.9,215.7 530.1,215.7 530.3,215.7 530.5,215.7 530.7,215.7 530.9,215.7 531.1,215.7 531.3,215.7 531.6,215.7 531.8,215.7 532.0,215.7 532.2,215.7 532.4,215.7 532.6,215.7 532.8,215.7 533.0,215.7 533.2,215.7 533.4,215.7 533.6,215.7 533.8,215.7 534.1,215.7 534.3,215.7 534.5,215.7 534.7,215.7 534.9,215.7 535.1,215.7 535.3,215.7 535.5,215.7 535.7,215.7 535.9,215.7 536.1,215.7 536.3,215.7 536.6,215.7 536.8,215.7 537.0,215.7 537.2,215.7 537.4,215.7 537.6,215.7 537.8,215.7 538.0,215.7 538.2,215.7 538.4,215.7 538.6,215.7 538.8,215.7 539.1,215.7 539.3,215.7 539.5,215.7 539.7,215.7 539.9,215.7 540.1,215.7 540.3,215.7 540.5,215.7 540.7,215.7 540.9,215.7 541.1,215.7 541.3,215.7 541.6,215.7 541.8,215.7 542.0,215.7 542.2,215.7 542.4,215.7 542.6,215.7 542.8,215.7 543.0,215.7 543.2,215.7 543.4,215.7 543.6,215.7 543.8,215.7 544.1,215.7 544.3,215.7 544.5,215.7 544.7,215.7 544.9,215.7 545.1,215.7 545.3,215.7 545.5,215.7 545.7,215.7 545.9,215.7 546.1,215.7 546.3,215.7 546.6,215.7 546.8,215.7 547.0,215.7 547.2,215.7 547.4,215.7 547.6,215.7 547.8,215.7 548.0,215.7 548.2,215.7 548.4,215.7 548.6,215.7 548.8,215.7 549.1,215.7 549.3,215.7 549.5,215.7 549.7,215.7 549.9,215.7 550.1,215.7 550.3,215.7 550.5,215.7 550.7,215.7 550.9,215.7 551.1,215.7 551.3,215.7 551.6,215.7 551.8,215.7 552.0,215.7 552.2,215.7 552.4,215.7 552.6,215.7 552.8,215.7 553.0,215.7 553.2,215.7 553.4,215.7 553.6,215.7 553.9,215.7 554.1,215.7 554.3,215.7 554.5,215.7 554.7,215.7 554.9,215.7 555.1,215.7 555.3,215.7 555.5,215.7 555.7,215.7 555.9,215.7 556.1,215.7 556.4,215.7 556.6,215.7 556.8,215.7 557.0,215.7 557.2,215.7 557.4,215.7 557.6,215.7 557.8,215.7 558.0,215.7 558.2,215.7 558.4,215.7 558.6,215.7 558.9,215.7 559.1,215.7 559.3,215.7 559.5,215.7 559.7,215.7 559.9,215.7 560.1,215.7 560.3,215.7 560.5,215.7 560.7,215.7 560.9,215.7 561.1,215.7 561.4,215.7 561.6,215.7 561.8,215.7 562.0,215.7 562.2,215.7 562.4,215.7 562.6,215.7 562.8,215.7 563.0,215.7 563.2,215.7 563.4,215.7 563.6,215.7 563.9,215.7 564.1,215.7 564.3,215.7 564.5,215.7 564.7,215.7 564.9,215.7 565.1,215.7 565.3,215.7 565.5,215.7 565.7,215.7 565.9,215.7 566.1,215.7 566.4,215.7 566.6,215.7 566.8,215.7 567.0,215.7 567.2,215.7 567.4,215.7 567.6,215.7 567.8,215.7 568.0,215.7 568.2,215.7 568.4,215.7 568.6,215.7 568.9,215.7 569.1,215.7 569.3,215.7 569.5,215.7 569.7,215.7 569.9,215.7 570.1,215.7 570.3,215.7 570.5,215.7 570.7,215.7 570.9,215.7 571.1,215.7 571.4,215.7 571.6,215.7 571.8,215.7 572.0,215.7 572.2,215.7 572.4,215.7 572.6,215.7 572.8,215.7 573.0,215.7 573.2,215.7 573.4,215.7 573.6,215.7 573.9,215.7 574.1,215.7 574.3,215.7 574.5,215.7 574.7,215.7 574.9,215.7 575.1,215.7 575.3,215.7 575.5,215.7 575.7,215.7 575.9,215.7 576.1,215.7 576.4,215.7 576.6,215.7 576.8,215.7 577.0,215.7 577.2,215.7 577.4,215.7 577.6,215.7 577.8,215.7 578.0,215.7 578.2,215.7 578.4,215.7 578.6,215.7 578.9,215.7 579.1,215.7 579.3,215.7 579.5,215.7 579.7,215.7 579.9,215.7 580.1,215.7 580.3,215.7 580.5,215.7 580.7,215.7 580.9,215.7 581.2,215.7 581.4,215.7 581.6,215.7 581.8,215.7 582.0,215.7 582.2,215.7 582.4,215.7 582.6,215.7 582.8,215.7 583.0,215.7 583.2,215.7 583.4,215.7 583.7,215.7 583.9,215.7 584.1,215.7 584.3,215.7 584.5,215.7 584.7,215.7 584.9,215.7 585.1,215.7 585.3,215.7 585.5,215.7 585.7,215.7 585.9,215.7 586.2,215.7 586.4,215.7 586.6,215.7 586.8,215.7 587.0,215.7 587.2,215.7 587.4,215.7 587.6,215.7 587.8,215.7 588.0,215.7 588.2,215.7 588.4,215.7 588.7,215.7 588.9,215.7 589.1,215.7 589.3,215.7 589.5,215.7 589.7,215.7 589.9,215.7 590.1,215.7 590.3,215.7 590.5,215.7 590.7,215.7 590.9,215.7 591.2,215.7 591.4,215.7 591.6,215.7 591.8,215.7 592.0,215.7 592.2,215.7 592.4,215.7 592.6,215.7 592.8,215.7 593.0,215.7 593.2,215.7 593.4,215.7 593.7,215.7 593.9,215.7 594.1,215.7 594.3,215.7 594.5,215.7 594.7,215.7 594.9,215.7 595.1,215.7 595.3,215.7 595.5,215.7 595.7,215.7 595.9,215.7 596.2,215.7 596.4,215.7 596.6,215.7 596.8,215.7 597.0,215.7 597.2,215.7 597.4,215.7 597.6,215.7 597.8,215.7 598.0,215.7 598.2,215.7 598.4,215.7 598.7,215.7 598.9,215.7 599.1,215.7 599.3,215.7 599.5,215.7 599.7,215.7 599.9,215.7 600.1,215.7 600.3,215.7 600.5,215.7 600.7,215.7 600.9,215.7 601.2,215.7 601.4,215.7 601.6,215.7 601.8,215.7 602.0,215.7 602.2,215.7 602.4,215.7 602.6,215.7 602.8,215.7 603.0,215.7 603.2,215.7 603.4,215.7 603.7,215.7 603.9,215.7 604.1,215.7 604.3,215.7 604.5,215.7 604.7,215.7 604.9,215.7 605.1,215.7 605.3,215.7 605.5,215.7 605.7,215.7 606.0,215.7 606.2,215.7 606.4,215.7 606.6,215.7 606.8,215.7 607.0,215.7 607.2,215.7 607.4,215.7 607.6,215.7 607.8,215.7 608.0,215.7 608.2,215.7 608.5,215.7 608.7,215.7 608.9,215.7 609.1,215.7 609.3,215.7 609.5,215.7 609.7,215.7 609.9,215.7 610.1,215.7 610.3,215.7 610.5,215.7 610.7,215.7 611.0,215.7 611.2,215.7 611.4,215.7 611.6,215.7 611.8,215.7 612.0,215.7 612.2,215.7 612.4,215.7 612.6,215.7 612.8,215.7 613.0,215.7 613.2,215.7 613.5,215.7 613.7,215.7 613.9,215.7 614.1,215.7 614.3,215.7 614.5,215.7 614.7,215.7 614.9,215.7 615.1,215.7 615.3,215.7 615.5,215.7 615.7,215.7 616.0,215.7 616.2,215.7 616.4,215.7 616.6,215.7 616.8,215.7 617.0,215.7 617.2,215.7 617.4,215.7 617.6,215.7 617.8,215.7 618.0,215.7 618.2,215.7 618.5,215.7 618.7,215.7 618.9,215.7 619.1,215.7 619.3,215.7 619.5,215.7 619.7,215.7 619.9,215.7 620.1,215.7 620.3,215.7 620.5,215.7 620.7,215.7 621.0,215.7 621.2,215.7 621.4,215.7 621.6,215.7 621.8,215.7 622.0,215.7 622.2,215.7 622.4,215.7 622.6,215.7 622.8,215.7 623.0,215.7 623.2,215.7 623.5,215.7 623.7,215.7 623.9,215.7 624.1,215.7 624.3,215.7 624.5,215.7 624.7,215.7 624.9,215.7 625.1,215.7 625.3,215.7 625.5,215.7 625.7,215.7 626.0,215.7 626.2,215.7 626.4,215.7 626.6,215.7 626.8,215.7 627.0,215.7 627.2,215.7 627.4,215.7 627.6,215.7 627.8,215.7 628.0,215.7 628.2,215.7 628.5,215.7 628.7,215.7 628.9,215.7 629.1,215.7 629.3,215.7 629.5,215.7 629.7,215.7 629.9,215.7 630.1,215.7 630.3,215.7 630.5,215.7 630.8,215.7 631.0,215.7 631.2,215.7 631.4,215.7 631.6,215.7 631.8,215.7 632.0,215.7 632.2,215.7 632.4,215.7 632.6,215.7 632.8,215.7 633.0,215.7 633.3,215.7 633.5,215.7 633.7,215.7 633.9,215.7 634.1,215.7 634.3,215.7 634.5,215.7 634.7,215.7 634.9,215.7 635.1,215.7 635.3,215.7 635.5,215.7 635.8,215.7 636.0,215.7 636.2,215.7 636.4,215.7 636.6,215.7 636.8,215.7 637.0,215.7 637.2,215.7 637.4,215.7 637.6,215.7 637.8,215.7 638.0,215.7 638.3,215.7 638.5,215.7 638.7,215.7 638.9,215.7 639.1,215.7 639.3,215.7 639.5,215.7 639.7,215.7 639.9,215.7 640.1,215.7 640.3,215.7 640.5,215.7 640.8,215.7 641.0,215.7 641.2,215.7 641.4,215.7 641.6,215.7" fill="none" stroke="#e01f1f" stroke-width="1.3"/>
<text x="396.30" y="227.30" font-size="9.8" text-anchor="middle" font-weight="normal" fill="#161616" textLength="4.85" lengthAdjust="spacingAndGlyphs">0</text>
<line x1="422.4" y1="215.3" x2="422.4" y2="213.10000000000002" stroke="#2a2a2a" stroke-width="1.1"/>
<line x1="448.4" y1="215.3" x2="448.4" y2="211.10000000000002" stroke="#2a2a2a" stroke-width="1.1"/>
<text x="448.40" y="227.30" font-size="9.8" text-anchor="middle" font-weight="normal" fill="#161616" textLength="14.549999999999999" lengthAdjust="spacingAndGlyphs">500</text>
<line x1="474.5" y1="215.3" x2="474.5" y2="213.10000000000002" stroke="#2a2a2a" stroke-width="1.1"/>
<line x1="500.5" y1="215.3" x2="500.5" y2="211.10000000000002" stroke="#2a2a2a" stroke-width="1.1"/>
<text x="500.50" y="227.30" font-size="9.8" text-anchor="middle" font-weight="normal" fill="#161616" textLength="19.4" lengthAdjust="spacingAndGlyphs">1000</text>
<line x1="526.5" y1="215.3" x2="526.5" y2="213.10000000000002" stroke="#2a2a2a" stroke-width="1.1"/>
<line x1="552.6" y1="215.3" x2="552.6" y2="211.10000000000002" stroke="#2a2a2a" stroke-width="1.1"/>
<text x="552.60" y="227.30" font-size="9.8" text-anchor="middle" font-weight="normal" fill="#161616" textLength="19.4" lengthAdjust="spacingAndGlyphs">1500</text>
<line x1="578.6" y1="215.3" x2="578.6" y2="213.10000000000002" stroke="#2a2a2a" stroke-width="1.1"/>
<line x1="604.7" y1="215.3" x2="604.7" y2="211.10000000000002" stroke="#2a2a2a" stroke-width="1.1"/>
<text x="604.70" y="227.30" font-size="9.8" text-anchor="middle" font-weight="normal" fill="#161616" textLength="19.4" lengthAdjust="spacingAndGlyphs">2000</text>
<line x1="630.8" y1="215.3" x2="630.8" y2="213.10000000000002" stroke="#2a2a2a" stroke-width="1.1"/>
<line x1="656.8" y1="215.3" x2="656.8" y2="211.10000000000002" stroke="#2a2a2a" stroke-width="1.1"/>
<text x="656.80" y="227.30" font-size="9.8" text-anchor="middle" font-weight="normal" fill="#161616" textLength="19.4" lengthAdjust="spacingAndGlyphs">2500</text>
<line x1="396.5" y1="185.3" x2="399.7" y2="185.3" stroke="#2a2a2a" stroke-width="1.1"/>
<text x="392.50" y="189.10" font-size="11" text-anchor="end" font-weight="normal" fill="#161616">1</text>
<line x1="396.5" y1="155.3" x2="399.7" y2="155.3" stroke="#2a2a2a" stroke-width="1.1"/>
<text x="392.50" y="159.10" font-size="11" text-anchor="end" font-weight="normal" fill="#161616">2</text>
<line x1="396.5" y1="125.3" x2="399.7" y2="125.3" stroke="#2a2a2a" stroke-width="1.1"/>
<text x="392.50" y="129.10" font-size="11" text-anchor="end" font-weight="normal" fill="#161616">3</text>
<line x1="396.5" y1="95.3" x2="399.7" y2="95.3" stroke="#2a2a2a" stroke-width="1.1"/>
<text x="392.50" y="99.10" font-size="11" text-anchor="end" font-weight="normal" fill="#161616">4</text>
<line x1="396.5" y1="65.3" x2="399.7" y2="65.3" stroke="#2a2a2a" stroke-width="1.1"/>
<text x="392.50" y="69.10" font-size="11" text-anchor="end" font-weight="normal" fill="#161616">5</text>
<line x1="396.5" y1="35.3" x2="399.7" y2="35.3" stroke="#2a2a2a" stroke-width="1.1"/>
<text x="392.50" y="39.10" font-size="11" text-anchor="end" font-weight="normal" fill="#161616">6</text>
<line x1="396.5" y1="200.3" x2="398.5" y2="200.3" stroke="#2a2a2a" stroke-width="1.1"/>
<line x1="396.5" y1="170.3" x2="398.5" y2="170.3" stroke="#2a2a2a" stroke-width="1.1"/>
<line x1="396.5" y1="140.3" x2="398.5" y2="140.3" stroke="#2a2a2a" stroke-width="1.1"/>
<line x1="396.5" y1="110.3" x2="398.5" y2="110.3" stroke="#2a2a2a" stroke-width="1.1"/>
<line x1="396.5" y1="80.3" x2="398.5" y2="80.3" stroke="#2a2a2a" stroke-width="1.1"/>
<line x1="396.5" y1="50.3" x2="398.5" y2="50.3" stroke="#2a2a2a" stroke-width="1.1"/>
<line x1="396.5" y1="20.3" x2="398.5" y2="20.3" stroke="#2a2a2a" stroke-width="1.1"/>
</g>
<rect x="232.6" y="20.4" width="2.8" height="2.8" fill="none" stroke="#5050d8" stroke-width="0.8"/>
<text x="248.90" y="25.30" font-size="10" text-anchor="start" font-weight="normal" fill="#161616">Raw data</text>
<line x1="222.4" y1="34.300000000000004" x2="245.7" y2="34.300000000000004" stroke="#d82222" stroke-width="1.4"/>
<text x="248.90" y="37.60" font-size="10" text-anchor="start" font-weight="normal" fill="#161616" textLength="69.2" lengthAdjust="spacingAndGlyphs">Simulation data</text>
<text x="166.90" y="180.60" font-size="11" text-anchor="start" font-weight="normal" fill="#161616" textLength="60.6" lengthAdjust="spacingAndGlyphs">Composition</text>
<text x="239.00" y="180.60" font-size="11" text-anchor="start" font-weight="normal" fill="#161616">Si</text>
<text x="249.80" y="185.10" font-size="7" text-anchor="start" font-weight="normal" fill="#161616">3.0</text>
<text x="268.00" y="180.60" font-size="11" text-anchor="start" font-weight="normal" fill="#161616">N</text>
<text x="276.70" y="185.10" font-size="7" text-anchor="start" font-weight="normal" fill="#161616">3.0</text>
<text x="293.30" y="180.60" font-size="11" text-anchor="start" font-weight="normal" fill="#161616">H</text>
<text x="302.00" y="185.10" font-size="7" text-anchor="start" font-weight="normal" fill="#161616">2.15</text>
<text x="166.90" y="198.00" font-size="11" text-anchor="start" font-weight="normal" fill="#161616">Atomic percent : 26.38 at.%</text>
<text x="14.00" y="113.50" font-size="13" text-anchor="middle" font-weight="normal" fill="#161616" textLength="98.5" lengthAdjust="spacingAndGlyphs" transform="rotate(-90 14 113.5)">Normalized Yield</text>
<text x="188.50" y="245.80" font-size="13" text-anchor="middle" font-weight="normal" fill="#161616" textLength="73.8" lengthAdjust="spacingAndGlyphs">Energy(KeV)</text>
<rect x="591.4" y="15.6" width="2.8" height="2.8" fill="none" stroke="#5050d8" stroke-width="0.8"/>
<text x="607.10" y="20.50" font-size="10" text-anchor="start" font-weight="normal" fill="#161616">Raw data</text>
<line x1="581" y1="29.999999999999996" x2="604.7" y2="29.999999999999996" stroke="#d82222" stroke-width="1.4"/>
<text x="607.10" y="33.30" font-size="10" text-anchor="start" font-weight="normal" fill="#161616" textLength="69.2" lengthAdjust="spacingAndGlyphs">Simulation data</text>
<text x="513.00" y="180.80" font-size="11" text-anchor="start" font-weight="normal" fill="#161616" textLength="60.6" lengthAdjust="spacingAndGlyphs">Composition</text>
<text x="583.70" y="180.80" font-size="11" text-anchor="start" font-weight="normal" fill="#161616">Si</text>
<text x="595.00" y="185.30" font-size="7" text-anchor="start" font-weight="normal" fill="#161616">1.0</text>
<text x="613.40" y="180.80" font-size="11" text-anchor="start" font-weight="normal" fill="#161616">O</text>
<text x="623.70" y="185.30" font-size="7" text-anchor="start" font-weight="normal" fill="#161616">2.15</text>
<text x="645.80" y="180.80" font-size="11" text-anchor="start" font-weight="normal" fill="#161616">H</text>
<text x="656.00" y="185.30" font-size="7" text-anchor="start" font-weight="normal" fill="#161616">0.212</text>
<text x="509.50" y="197.80" font-size="11" text-anchor="start" font-weight="normal" fill="#161616">Atomic percent : 6.3 at.%</text>
<text x="371.00" y="113.50" font-size="13" text-anchor="middle" font-weight="normal" fill="#161616" textLength="98.5" lengthAdjust="spacingAndGlyphs" transform="rotate(-90 371 113.5)">Normalized Yield</text>
<text x="541.50" y="245.80" font-size="13" text-anchor="middle" font-weight="normal" fill="#161616" textLength="73.8" lengthAdjust="spacingAndGlyphs">Energy(KeV)</text>
<text x="185.50" y="272.50" font-size="16.5" text-anchor="middle" font-weight="normal" fill="#161616">(a)</text>
<text x="538.50" y="272.50" font-size="16.5" text-anchor="middle" font-weight="normal" fill="#161616">(b)</text>
<g id="c">
<clipPath id="clipsq"><rect x="64.8" y="306.5" width="258.2" height="297.79999999999995"/></clipPath><g clip-path="url(#clipsq)">
<polyline points="64.95,537.57 68.38,538.61 71.81,539.65 75.24,540.69 78.67,541.74 82.10,542.78 85.53,543.82 88.96,544.86 92.39,545.90 95.82,546.94 99.25,547.98 102.68,549.02 106.11,550.06 109.54,551.10 112.97,552.15 116.40,553.19 119.83,554.23 123.26,555.27 126.69,556.31 130.12,557.35 133.55,558.39 136.98,559.43 140.41,560.47 143.84,561.51 147.27,562.56 150.70,546.71 154.13,523.03 157.56,468.96 160.99,438.75 164.42,421.41 167.85,409.00 171.28,399.60 174.71,392.44 178.14,386.55 181.57,381.81 185.00,377.11 188.43,373.31 191.86,369.80 195.29,366.30 198.72,363.39 202.15,360.82 205.58,358.46 209.01,356.21 212.44,354.03 215.87,351.89 219.30,349.73 222.73,347.51 226.16,345.23 229.59,342.95 233.02,340.74 236.45,338.67 239.88,336.82 243.31,335.18 246.74,333.68 250.17,332.28 253.60,330.93 257.03,329.59 260.46,328.23 263.89,326.84 267.32,325.43 270.75,324.05 274.18,322.72 277.61,321.45 281.04,320.28 284.47,319.24 287.90,318.26 291.33,317.32 294.76,316.41 298.19,315.50 301.62,314.60 305.05,313.67 308.48,312.73 311.91,311.78 315.34,310.83 318.77,309.87 322.20,308.91" fill="none" stroke="#8a8a8a" stroke-width="1"/>
<rect x="62.55" y="534.17" width="4.8" height="6.8" fill="#0000ff"/>
<rect x="65.98" y="535.21" width="4.8" height="6.8" fill="#0000ff"/>
<rect x="69.41" y="536.25" width="4.8" height="6.8" fill="#0000ff"/>
<rect x="72.84" y="537.29" width="4.8" height="6.8" fill="#0000ff"/>
<rect x="76.27" y="538.34" width="4.8" height="6.8" fill="#0000ff"/>
<rect x="79.70" y="539.38" width="4.8" height="6.8" fill="#0000ff"/>
<rect x="83.13" y="540.42" width="4.8" height="6.8" fill="#0000ff"/>
<rect x="86.56" y="541.46" width="4.8" height="6.8" fill="#0000ff"/>
<rect x="89.99" y="542.50" width="4.8" height="6.8" fill="#0000ff"/>
<rect x="93.42" y="543.54" width="4.8" height="6.8" fill="#0000ff"/>
<rect x="96.85" y="544.58" width="4.8" height="6.8" fill="#0000ff"/>
<rect x="100.28" y="545.62" width="4.8" height="6.8" fill="#0000ff"/>
<rect x="103.71" y="546.66" width="4.8" height="6.8" fill="#0000ff"/>
<rect x="107.14" y="547.70" width="4.8" height="6.8" fill="#0000ff"/>
<rect x="110.57" y="548.75" width="4.8" height="6.8" fill="#0000ff"/>
<rect x="114.00" y="549.79" width="4.8" height="6.8" fill="#0000ff"/>
<rect x="117.43" y="550.83" width="4.8" height="6.8" fill="#0000ff"/>
<rect x="120.86" y="551.87" width="4.8" height="6.8" fill="#0000ff"/>
<rect x="124.29" y="552.91" width="4.8" height="6.8" fill="#0000ff"/>
<rect x="127.72" y="553.95" width="4.8" height="6.8" fill="#0000ff"/>
<rect x="131.15" y="554.99" width="4.8" height="6.8" fill="#0000ff"/>
<rect x="134.58" y="556.03" width="4.8" height="6.8" fill="#0000ff"/>
<rect x="138.01" y="557.07" width="4.8" height="6.8" fill="#0000ff"/>
<rect x="141.44" y="558.11" width="4.8" height="6.8" fill="#0000ff"/>
<rect x="144.87" y="559.16" width="4.8" height="6.8" fill="#0000ff"/>
<rect x="148.30" y="543.31" width="4.8" height="6.8" fill="#0000ff"/>
<rect x="151.73" y="519.63" width="4.8" height="6.8" fill="#0000ff"/>
<rect x="155.16" y="465.56" width="4.8" height="6.8" fill="#0000ff"/>
<rect x="158.59" y="435.35" width="4.8" height="6.8" fill="#0000ff"/>
<rect x="162.02" y="418.01" width="4.8" height="6.8" fill="#0000ff"/>
<rect x="165.45" y="405.60" width="4.8" height="6.8" fill="#0000ff"/>
<rect x="168.88" y="396.20" width="4.8" height="6.8" fill="#0000ff"/>
<rect x="172.31" y="389.04" width="4.8" height="6.8" fill="#0000ff"/>
<rect x="175.74" y="383.15" width="4.8" height="6.8" fill="#0000ff"/>
<rect x="179.17" y="378.41" width="4.8" height="6.8" fill="#0000ff"/>
<rect x="182.60" y="373.71" width="4.8" height="6.8" fill="#0000ff"/>
<rect x="186.03" y="369.91" width="4.8" height="6.8" fill="#0000ff"/>
<rect x="189.46" y="366.40" width="4.8" height="6.8" fill="#0000ff"/>
<rect x="192.89" y="362.90" width="4.8" height="6.8" fill="#0000ff"/>
<rect x="196.32" y="359.99" width="4.8" height="6.8" fill="#0000ff"/>
<rect x="199.75" y="357.42" width="4.8" height="6.8" fill="#0000ff"/>
<rect x="203.18" y="355.06" width="4.8" height="6.8" fill="#0000ff"/>
<rect x="206.61" y="352.81" width="4.8" height="6.8" fill="#0000ff"/>
<rect x="210.04" y="350.63" width="4.8" height="6.8" fill="#0000ff"/>
<rect x="213.47" y="348.49" width="4.8" height="6.8" fill="#0000ff"/>
<rect x="216.90" y="346.33" width="4.8" height="6.8" fill="#0000ff"/>
<rect x="220.33" y="344.11" width="4.8" height="6.8" fill="#0000ff"/>
<rect x="223.76" y="341.83" width="4.8" height="6.8" fill="#0000ff"/>
<rect x="227.19" y="339.55" width="4.8" height="6.8" fill="#0000ff"/>
<rect x="230.62" y="337.34" width="4.8" height="6.8" fill="#0000ff"/>
<rect x="234.05" y="335.27" width="4.8" height="6.8" fill="#0000ff"/>
<rect x="237.48" y="333.42" width="4.8" height="6.8" fill="#0000ff"/>
<rect x="240.91" y="331.78" width="4.8" height="6.8" fill="#0000ff"/>
<rect x="244.34" y="330.28" width="4.8" height="6.8" fill="#0000ff"/>
<rect x="247.77" y="328.88" width="4.8" height="6.8" fill="#0000ff"/>
<rect x="251.20" y="327.53" width="4.8" height="6.8" fill="#0000ff"/>
<rect x="254.63" y="326.19" width="4.8" height="6.8" fill="#0000ff"/>
<rect x="258.06" y="324.83" width="4.8" height="6.8" fill="#0000ff"/>
<rect x="261.49" y="323.44" width="4.8" height="6.8" fill="#0000ff"/>
<rect x="264.92" y="322.03" width="4.8" height="6.8" fill="#0000ff"/>
<rect x="268.35" y="320.65" width="4.8" height="6.8" fill="#0000ff"/>
<rect x="271.78" y="319.32" width="4.8" height="6.8" fill="#0000ff"/>
<rect x="275.21" y="318.05" width="4.8" height="6.8" fill="#0000ff"/>
<rect x="278.64" y="316.88" width="4.8" height="6.8" fill="#0000ff"/>
<rect x="282.07" y="315.84" width="4.8" height="6.8" fill="#0000ff"/>
<rect x="285.50" y="314.86" width="4.8" height="6.8" fill="#0000ff"/>
<rect x="288.93" y="313.92" width="4.8" height="6.8" fill="#0000ff"/>
<rect x="292.36" y="313.01" width="4.8" height="6.8" fill="#0000ff"/>
<rect x="295.79" y="312.10" width="4.8" height="6.8" fill="#0000ff"/>
<rect x="299.22" y="311.20" width="4.8" height="6.8" fill="#0000ff"/>
<rect x="302.65" y="310.27" width="4.8" height="6.8" fill="#0000ff"/>
<rect x="306.08" y="309.33" width="4.8" height="6.8" fill="#0000ff"/>
<rect x="309.51" y="308.38" width="4.8" height="6.8" fill="#0000ff"/>
<rect x="312.94" y="307.43" width="4.8" height="6.8" fill="#0000ff"/>
<rect x="316.37" y="306.47" width="4.8" height="6.8" fill="#0000ff"/>
<rect x="319.80" y="305.51" width="4.8" height="6.8" fill="#0000ff"/>
</g>
<rect x="64.8" y="306.5" width="258.2" height="297.79999999999995" fill="none" stroke="#1a1a1a" stroke-width="1.15"/>
<line x1="82.10" y1="604.3" x2="82.10" y2="598.8" stroke="#1a1a1a" stroke-width="0.9"/>
<line x1="82.10" y1="306.5" x2="82.10" y2="312.0" stroke="#1a1a1a" stroke-width="0.9"/>
<text x="82.40" y="620.10" font-size="11.5" text-anchor="middle" font-weight="normal" fill="#222" textLength="10.4" lengthAdjust="spacingAndGlyphs">-30</text>
<line x1="99.25" y1="604.3" x2="99.25" y2="601.0999999999999" stroke="#1a1a1a" stroke-width="0.9"/>
<line x1="99.25" y1="306.5" x2="99.25" y2="309.7" stroke="#1a1a1a" stroke-width="0.9"/>
<line x1="116.40" y1="604.3" x2="116.40" y2="598.8" stroke="#1a1a1a" stroke-width="0.9"/>
<line x1="116.40" y1="306.5" x2="116.40" y2="312.0" stroke="#1a1a1a" stroke-width="0.9"/>
<text x="116.70" y="620.10" font-size="11.5" text-anchor="middle" font-weight="normal" fill="#222" textLength="10.4" lengthAdjust="spacingAndGlyphs">-20</text>
<line x1="133.55" y1="604.3" x2="133.55" y2="601.0999999999999" stroke="#1a1a1a" stroke-width="0.9"/>
<line x1="133.55" y1="306.5" x2="133.55" y2="309.7" stroke="#1a1a1a" stroke-width="0.9"/>
<line x1="150.70" y1="604.3" x2="150.70" y2="598.8" stroke="#1a1a1a" stroke-width="0.9"/>
<line x1="150.70" y1="306.5" x2="150.70" y2="312.0" stroke="#1a1a1a" stroke-width="0.9"/>
<text x="151.00" y="620.10" font-size="11.5" text-anchor="middle" font-weight="normal" fill="#222" textLength="10.4" lengthAdjust="spacingAndGlyphs">-10</text>
<line x1="167.85" y1="604.3" x2="167.85" y2="601.0999999999999" stroke="#1a1a1a" stroke-width="0.9"/>
<line x1="167.85" y1="306.5" x2="167.85" y2="309.7" stroke="#1a1a1a" stroke-width="0.9"/>
<line x1="185.00" y1="604.3" x2="185.00" y2="598.8" stroke="#1a1a1a" stroke-width="0.9"/>
<line x1="185.00" y1="306.5" x2="185.00" y2="312.0" stroke="#1a1a1a" stroke-width="0.9"/>
<text x="185.00" y="620.10" font-size="11.5" text-anchor="middle" font-weight="normal" fill="#222" textLength="3.9" lengthAdjust="spacingAndGlyphs">0</text>
<line x1="202.15" y1="604.3" x2="202.15" y2="601.0999999999999" stroke="#1a1a1a" stroke-width="0.9"/>
<line x1="202.15" y1="306.5" x2="202.15" y2="309.7" stroke="#1a1a1a" stroke-width="0.9"/>
<line x1="219.30" y1="604.3" x2="219.30" y2="598.8" stroke="#1a1a1a" stroke-width="0.9"/>
<line x1="219.30" y1="306.5" x2="219.30" y2="312.0" stroke="#1a1a1a" stroke-width="0.9"/>
<text x="219.30" y="620.10" font-size="11.5" text-anchor="middle" font-weight="normal" fill="#222" textLength="7.8" lengthAdjust="spacingAndGlyphs">10</text>
<line x1="236.45" y1="604.3" x2="236.45" y2="601.0999999999999" stroke="#1a1a1a" stroke-width="0.9"/>
<line x1="236.45" y1="306.5" x2="236.45" y2="309.7" stroke="#1a1a1a" stroke-width="0.9"/>
<line x1="253.60" y1="604.3" x2="253.60" y2="598.8" stroke="#1a1a1a" stroke-width="0.9"/>
<line x1="253.60" y1="306.5" x2="253.60" y2="312.0" stroke="#1a1a1a" stroke-width="0.9"/>
<text x="253.60" y="620.10" font-size="11.5" text-anchor="middle" font-weight="normal" fill="#222" textLength="7.8" lengthAdjust="spacingAndGlyphs">20</text>
<line x1="270.75" y1="604.3" x2="270.75" y2="601.0999999999999" stroke="#1a1a1a" stroke-width="0.9"/>
<line x1="270.75" y1="306.5" x2="270.75" y2="309.7" stroke="#1a1a1a" stroke-width="0.9"/>
<line x1="287.90" y1="604.3" x2="287.90" y2="598.8" stroke="#1a1a1a" stroke-width="0.9"/>
<line x1="287.90" y1="306.5" x2="287.90" y2="312.0" stroke="#1a1a1a" stroke-width="0.9"/>
<text x="287.90" y="620.10" font-size="11.5" text-anchor="middle" font-weight="normal" fill="#222" textLength="7.8" lengthAdjust="spacingAndGlyphs">30</text>
<line x1="305.05" y1="604.3" x2="305.05" y2="601.0999999999999" stroke="#1a1a1a" stroke-width="0.9"/>
<line x1="305.05" y1="306.5" x2="305.05" y2="309.7" stroke="#1a1a1a" stroke-width="0.9"/>
<line x1="322.20" y1="604.3" x2="322.20" y2="598.8" stroke="#1a1a1a" stroke-width="0.9"/>
<line x1="322.20" y1="306.5" x2="322.20" y2="312.0" stroke="#1a1a1a" stroke-width="0.9"/>
<text x="322.20" y="620.10" font-size="11.5" text-anchor="middle" font-weight="normal" fill="#222" textLength="7.8" lengthAdjust="spacingAndGlyphs">40</text>
<line x1="64.8" y1="599.77" x2="67.2" y2="599.77" stroke="#1a1a1a" stroke-width="0.9"/>
<line x1="323" y1="599.77" x2="320.6" y2="599.77" stroke="#1a1a1a" stroke-width="0.9"/>
<line x1="64.8" y1="596.16" x2="67.2" y2="596.16" stroke="#1a1a1a" stroke-width="0.9"/>
<line x1="323" y1="596.16" x2="320.6" y2="596.16" stroke="#1a1a1a" stroke-width="0.9"/>
<line x1="64.8" y1="593.20" x2="67.2" y2="593.20" stroke="#1a1a1a" stroke-width="0.9"/>
<line x1="323" y1="593.20" x2="320.6" y2="593.20" stroke="#1a1a1a" stroke-width="0.9"/>
<line x1="64.8" y1="590.71" x2="67.2" y2="590.71" stroke="#1a1a1a" stroke-width="0.9"/>
<line x1="323" y1="590.71" x2="320.6" y2="590.71" stroke="#1a1a1a" stroke-width="0.9"/>
<line x1="64.8" y1="588.54" x2="67.2" y2="588.54" stroke="#1a1a1a" stroke-width="0.9"/>
<line x1="323" y1="588.54" x2="320.6" y2="588.54" stroke="#1a1a1a" stroke-width="0.9"/>
<line x1="64.8" y1="586.64" x2="67.2" y2="586.64" stroke="#1a1a1a" stroke-width="0.9"/>
<line x1="323" y1="586.64" x2="320.6" y2="586.64" stroke="#1a1a1a" stroke-width="0.9"/>
<line x1="64.8" y1="584.93" x2="69.0" y2="584.93" stroke="#1a1a1a" stroke-width="0.9"/>
<line x1="323" y1="584.93" x2="318.8" y2="584.93" stroke="#1a1a1a" stroke-width="0.9"/>
<line x1="64.8" y1="573.70" x2="67.2" y2="573.70" stroke="#1a1a1a" stroke-width="0.9"/>
<line x1="323" y1="573.70" x2="320.6" y2="573.70" stroke="#1a1a1a" stroke-width="0.9"/>
<line x1="64.8" y1="567.14" x2="67.2" y2="567.14" stroke="#1a1a1a" stroke-width="0.9"/>
<line x1="323" y1="567.14" x2="320.6" y2="567.14" stroke="#1a1a1a" stroke-width="0.9"/>
<line x1="64.8" y1="562.48" x2="67.2" y2="562.48" stroke="#1a1a1a" stroke-width="0.9"/>
<line x1="323" y1="562.48" x2="320.6" y2="562.48" stroke="#1a1a1a" stroke-width="0.9"/>
<line x1="64.8" y1="558.87" x2="67.2" y2="558.87" stroke="#1a1a1a" stroke-width="0.9"/>
<line x1="323" y1="558.87" x2="320.6" y2="558.87" stroke="#1a1a1a" stroke-width="0.9"/>
<line x1="64.8" y1="555.91" x2="67.2" y2="555.91" stroke="#1a1a1a" stroke-width="0.9"/>
<line x1="323" y1="555.91" x2="320.6" y2="555.91" stroke="#1a1a1a" stroke-width="0.9"/>
<line x1="64.8" y1="553.42" x2="67.2" y2="553.42" stroke="#1a1a1a" stroke-width="0.9"/>
<line x1="323" y1="553.42" x2="320.6" y2="553.42" stroke="#1a1a1a" stroke-width="0.9"/>
<line x1="64.8" y1="551.25" x2="67.2" y2="551.25" stroke="#1a1a1a" stroke-width="0.9"/>
<line x1="323" y1="551.25" x2="320.6" y2="551.25" stroke="#1a1a1a" stroke-width="0.9"/>
<line x1="64.8" y1="549.35" x2="67.2" y2="549.35" stroke="#1a1a1a" stroke-width="0.9"/>
<line x1="323" y1="549.35" x2="320.6" y2="549.35" stroke="#1a1a1a" stroke-width="0.9"/>
<line x1="64.8" y1="547.64" x2="69.0" y2="547.64" stroke="#1a1a1a" stroke-width="0.9"/>
<line x1="323" y1="547.64" x2="318.8" y2="547.64" stroke="#1a1a1a" stroke-width="0.9"/>
<line x1="64.8" y1="536.41" x2="67.2" y2="536.41" stroke="#1a1a1a" stroke-width="0.9"/>
<line x1="323" y1="536.41" x2="320.6" y2="536.41" stroke="#1a1a1a" stroke-width="0.9"/>
<line x1="64.8" y1="529.85" x2="67.2" y2="529.85" stroke="#1a1a1a" stroke-width="0.9"/>
<line x1="323" y1="529.85" x2="320.6" y2="529.85" stroke="#1a1a1a" stroke-width="0.9"/>
<line x1="64.8" y1="525.19" x2="67.2" y2="525.19" stroke="#1a1a1a" stroke-width="0.9"/>
<line x1="323" y1="525.19" x2="320.6" y2="525.19" stroke="#1a1a1a" stroke-width="0.9"/>
<line x1="64.8" y1="521.58" x2="67.2" y2="521.58" stroke="#1a1a1a" stroke-width="0.9"/>
<line x1="323" y1="521.58" x2="320.6" y2="521.58" stroke="#1a1a1a" stroke-width="0.9"/>
<line x1="64.8" y1="518.62" x2="67.2" y2="518.62" stroke="#1a1a1a" stroke-width="0.9"/>
<line x1="323" y1="518.62" x2="320.6" y2="518.62" stroke="#1a1a1a" stroke-width="0.9"/>
<line x1="64.8" y1="516.13" x2="67.2" y2="516.13" stroke="#1a1a1a" stroke-width="0.9"/>
<line x1="323" y1="516.13" x2="320.6" y2="516.13" stroke="#1a1a1a" stroke-width="0.9"/>
<line x1="64.8" y1="513.96" x2="67.2" y2="513.96" stroke="#1a1a1a" stroke-width="0.9"/>
<line x1="323" y1="513.96" x2="320.6" y2="513.96" stroke="#1a1a1a" stroke-width="0.9"/>
<line x1="64.8" y1="512.06" x2="67.2" y2="512.06" stroke="#1a1a1a" stroke-width="0.9"/>
<line x1="323" y1="512.06" x2="320.6" y2="512.06" stroke="#1a1a1a" stroke-width="0.9"/>
<line x1="64.8" y1="510.35" x2="69.0" y2="510.35" stroke="#1a1a1a" stroke-width="0.9"/>
<line x1="323" y1="510.35" x2="318.8" y2="510.35" stroke="#1a1a1a" stroke-width="0.9"/>
<line x1="64.8" y1="499.12" x2="67.2" y2="499.12" stroke="#1a1a1a" stroke-width="0.9"/>
<line x1="323" y1="499.12" x2="320.6" y2="499.12" stroke="#1a1a1a" stroke-width="0.9"/>
<line x1="64.8" y1="492.56" x2="67.2" y2="492.56" stroke="#1a1a1a" stroke-width="0.9"/>
<line x1="323" y1="492.56" x2="320.6" y2="492.56" stroke="#1a1a1a" stroke-width="0.9"/>
<line x1="64.8" y1="487.90" x2="67.2" y2="487.90" stroke="#1a1a1a" stroke-width="0.9"/>
<line x1="323" y1="487.90" x2="320.6" y2="487.90" stroke="#1a1a1a" stroke-width="0.9"/>
<line x1="64.8" y1="484.29" x2="67.2" y2="484.29" stroke="#1a1a1a" stroke-width="0.9"/>
<line x1="323" y1="484.29" x2="320.6" y2="484.29" stroke="#1a1a1a" stroke-width="0.9"/>
<line x1="64.8" y1="481.33" x2="67.2" y2="481.33" stroke="#1a1a1a" stroke-width="0.9"/>
<line x1="323" y1="481.33" x2="320.6" y2="481.33" stroke="#1a1a1a" stroke-width="0.9"/>
<line x1="64.8" y1="478.84" x2="67.2" y2="478.84" stroke="#1a1a1a" stroke-width="0.9"/>
<line x1="323" y1="478.84" x2="320.6" y2="478.84" stroke="#1a1a1a" stroke-width="0.9"/>
<line x1="64.8" y1="476.67" x2="67.2" y2="476.67" stroke="#1a1a1a" stroke-width="0.9"/>
<line x1="323" y1="476.67" x2="320.6" y2="476.67" stroke="#1a1a1a" stroke-width="0.9"/>
<line x1="64.8" y1="474.77" x2="67.2" y2="474.77" stroke="#1a1a1a" stroke-width="0.9"/>
<line x1="323" y1="474.77" x2="320.6" y2="474.77" stroke="#1a1a1a" stroke-width="0.9"/>
<line x1="64.8" y1="473.06" x2="69.0" y2="473.06" stroke="#1a1a1a" stroke-width="0.9"/>
<line x1="323" y1="473.06" x2="318.8" y2="473.06" stroke="#1a1a1a" stroke-width="0.9"/>
<line x1="64.8" y1="461.83" x2="67.2" y2="461.83" stroke="#1a1a1a" stroke-width="0.9"/>
<line x1="323" y1="461.83" x2="320.6" y2="461.83" stroke="#1a1a1a" stroke-width="0.9"/>
<line x1="64.8" y1="455.27" x2="67.2" y2="455.27" stroke="#1a1a1a" stroke-width="0.9"/>
<line x1="323" y1="455.27" x2="320.6" y2="455.27" stroke="#1a1a1a" stroke-width="0.9"/>
<line x1="64.8" y1="450.61" x2="67.2" y2="450.61" stroke="#1a1a1a" stroke-width="0.9"/>
<line x1="323" y1="450.61" x2="320.6" y2="450.61" stroke="#1a1a1a" stroke-width="0.9"/>
<line x1="64.8" y1="447.00" x2="67.2" y2="447.00" stroke="#1a1a1a" stroke-width="0.9"/>
<line x1="323" y1="447.00" x2="320.6" y2="447.00" stroke="#1a1a1a" stroke-width="0.9"/>
<line x1="64.8" y1="444.04" x2="67.2" y2="444.04" stroke="#1a1a1a" stroke-width="0.9"/>
<line x1="323" y1="444.04" x2="320.6" y2="444.04" stroke="#1a1a1a" stroke-width="0.9"/>
<line x1="64.8" y1="441.55" x2="67.2" y2="441.55" stroke="#1a1a1a" stroke-width="0.9"/>
<line x1="323" y1="441.55" x2="320.6" y2="441.55" stroke="#1a1a1a" stroke-width="0.9"/>
<line x1="64.8" y1="439.38" x2="67.2" y2="439.38" stroke="#1a1a1a" stroke-width="0.9"/>
<line x1="323" y1="439.38" x2="320.6" y2="439.38" stroke="#1a1a1a" stroke-width="0.9"/>
<line x1="64.8" y1="437.48" x2="67.2" y2="437.48" stroke="#1a1a1a" stroke-width="0.9"/>
<line x1="323" y1="437.48" x2="320.6" y2="437.48" stroke="#1a1a1a" stroke-width="0.9"/>
<line x1="64.8" y1="435.77" x2="69.0" y2="435.77" stroke="#1a1a1a" stroke-width="0.9"/>
<line x1="323" y1="435.77" x2="318.8" y2="435.77" stroke="#1a1a1a" stroke-width="0.9"/>
<line x1="64.8" y1="424.54" x2="67.2" y2="424.54" stroke="#1a1a1a" stroke-width="0.9"/>
<line x1="323" y1="424.54" x2="320.6" y2="424.54" stroke="#1a1a1a" stroke-width="0.9"/>
<line x1="64.8" y1="417.98" x2="67.2" y2="417.98" stroke="#1a1a1a" stroke-width="0.9"/>
<line x1="323" y1="417.98" x2="320.6" y2="417.98" stroke="#1a1a1a" stroke-width="0.9"/>
<line x1="64.8" y1="413.32" x2="67.2" y2="413.32" stroke="#1a1a1a" stroke-width="0.9"/>
<line x1="323" y1="413.32" x2="320.6" y2="413.32" stroke="#1a1a1a" stroke-width="0.9"/>
<line x1="64.8" y1="409.71" x2="67.2" y2="409.71" stroke="#1a1a1a" stroke-width="0.9"/>
<line x1="323" y1="409.71" x2="320.6" y2="409.71" stroke="#1a1a1a" stroke-width="0.9"/>
<line x1="64.8" y1="406.75" x2="67.2" y2="406.75" stroke="#1a1a1a" stroke-width="0.9"/>
<line x1="323" y1="406.75" x2="320.6" y2="406.75" stroke="#1a1a1a" stroke-width="0.9"/>
<line x1="64.8" y1="404.26" x2="67.2" y2="404.26" stroke="#1a1a1a" stroke-width="0.9"/>
<line x1="323" y1="404.26" x2="320.6" y2="404.26" stroke="#1a1a1a" stroke-width="0.9"/>
<line x1="64.8" y1="402.09" x2="67.2" y2="402.09" stroke="#1a1a1a" stroke-width="0.9"/>
<line x1="323" y1="402.09" x2="320.6" y2="402.09" stroke="#1a1a1a" stroke-width="0.9"/>
<line x1="64.8" y1="400.19" x2="67.2" y2="400.19" stroke="#1a1a1a" stroke-width="0.9"/>
<line x1="323" y1="400.19" x2="320.6" y2="400.19" stroke="#1a1a1a" stroke-width="0.9"/>
<line x1="64.8" y1="398.48" x2="69.0" y2="398.48" stroke="#1a1a1a" stroke-width="0.9"/>
<line x1="323" y1="398.48" x2="318.8" y2="398.48" stroke="#1a1a1a" stroke-width="0.9"/>
<line x1="64.8" y1="387.25" x2="67.2" y2="387.25" stroke="#1a1a1a" stroke-width="0.9"/>
<line x1="323" y1="387.25" x2="320.6" y2="387.25" stroke="#1a1a1a" stroke-width="0.9"/>
<line x1="64.8" y1="380.69" x2="67.2" y2="380.69" stroke="#1a1a1a" stroke-width="0.9"/>
<line x1="323" y1="380.69" x2="320.6" y2="380.69" stroke="#1a1a1a" stroke-width="0.9"/>
<line x1="64.8" y1="376.03" x2="67.2" y2="376.03" stroke="#1a1a1a" stroke-width="0.9"/>
<line x1="323" y1="376.03" x2="320.6" y2="376.03" stroke="#1a1a1a" stroke-width="0.9"/>
<line x1="64.8" y1="372.42" x2="67.2" y2="372.42" stroke="#1a1a1a" stroke-width="0.9"/>
<line x1="323" y1="372.42" x2="320.6" y2="372.42" stroke="#1a1a1a" stroke-width="0.9"/>
<line x1="64.8" y1="369.46" x2="67.2" y2="369.46" stroke="#1a1a1a" stroke-width="0.9"/>
<line x1="323" y1="369.46" x2="320.6" y2="369.46" stroke="#1a1a1a" stroke-width="0.9"/>
<line x1="64.8" y1="366.97" x2="67.2" y2="366.97" stroke="#1a1a1a" stroke-width="0.9"/>
<line x1="323" y1="366.97" x2="320.6" y2="366.97" stroke="#1a1a1a" stroke-width="0.9"/>
<line x1="64.8" y1="364.80" x2="67.2" y2="364.80" stroke="#1a1a1a" stroke-width="0.9"/>
<line x1="323" y1="364.80" x2="320.6" y2="364.80" stroke="#1a1a1a" stroke-width="0.9"/>
<line x1="64.8" y1="362.90" x2="67.2" y2="362.90" stroke="#1a1a1a" stroke-width="0.9"/>
<line x1="323" y1="362.90" x2="320.6" y2="362.90" stroke="#1a1a1a" stroke-width="0.9"/>
<line x1="64.8" y1="361.19" x2="69.0" y2="361.19" stroke="#1a1a1a" stroke-width="0.9"/>
<line x1="323" y1="361.19" x2="318.8" y2="361.19" stroke="#1a1a1a" stroke-width="0.9"/>
<line x1="64.8" y1="349.96" x2="67.2" y2="349.96" stroke="#1a1a1a" stroke-width="0.9"/>
<line x1="323" y1="349.96" x2="320.6" y2="349.96" stroke="#1a1a1a" stroke-width="0.9"/>
<line x1="64.8" y1="343.40" x2="67.2" y2="343.40" stroke="#1a1a1a" stroke-width="0.9"/>
<line x1="323" y1="343.40" x2="320.6" y2="343.40" stroke="#1a1a1a" stroke-width="0.9"/>
<line x1="64.8" y1="338.74" x2="67.2" y2="338.74" stroke="#1a1a1a" stroke-width="0.9"/>
<line x1="323" y1="338.74" x2="320.6" y2="338.74" stroke="#1a1a1a" stroke-width="0.9"/>
<line x1="64.8" y1="335.13" x2="67.2" y2="335.13" stroke="#1a1a1a" stroke-width="0.9"/>
<line x1="323" y1="335.13" x2="320.6" y2="335.13" stroke="#1a1a1a" stroke-width="0.9"/>
<line x1="64.8" y1="332.17" x2="67.2" y2="332.17" stroke="#1a1a1a" stroke-width="0.9"/>
<line x1="323" y1="332.17" x2="320.6" y2="332.17" stroke="#1a1a1a" stroke-width="0.9"/>
<line x1="64.8" y1="329.68" x2="67.2" y2="329.68" stroke="#1a1a1a" stroke-width="0.9"/>
<line x1="323" y1="329.68" x2="320.6" y2="329.68" stroke="#1a1a1a" stroke-width="0.9"/>
<line x1="64.8" y1="327.51" x2="67.2" y2="327.51" stroke="#1a1a1a" stroke-width="0.9"/>
<line x1="323" y1="327.51" x2="320.6" y2="327.51" stroke="#1a1a1a" stroke-width="0.9"/>
<line x1="64.8" y1="325.61" x2="67.2" y2="325.61" stroke="#1a1a1a" stroke-width="0.9"/>
<line x1="323" y1="325.61" x2="320.6" y2="325.61" stroke="#1a1a1a" stroke-width="0.9"/>
<line x1="64.8" y1="323.90" x2="69.0" y2="323.90" stroke="#1a1a1a" stroke-width="0.9"/>
<line x1="323" y1="323.90" x2="318.8" y2="323.90" stroke="#1a1a1a" stroke-width="0.9"/>
<line x1="64.8" y1="312.67" x2="67.2" y2="312.67" stroke="#1a1a1a" stroke-width="0.9"/>
<line x1="323" y1="312.67" x2="320.6" y2="312.67" stroke="#1a1a1a" stroke-width="0.9"/>
<text x="60.30" y="588.83" font-size="10.5" text-anchor="end" font-weight="normal" fill="#222" textLength="19.6" lengthAdjust="spacingAndGlyphs">1E-13</text>
<text x="60.30" y="551.54" font-size="10.5" text-anchor="end" font-weight="normal" fill="#222" textLength="19.6" lengthAdjust="spacingAndGlyphs">1E-12</text>
<text x="60.30" y="514.25" font-size="10.5" text-anchor="end" font-weight="normal" fill="#222" textLength="19.6" lengthAdjust="spacingAndGlyphs">1E-11</text>
<text x="60.30" y="476.96" font-size="10.5" text-anchor="end" font-weight="normal" fill="#222" textLength="19.6" lengthAdjust="spacingAndGlyphs">1E-10</text>
<text x="60.30" y="439.67" font-size="10.5" text-anchor="end" font-weight="normal" fill="#222" textLength="15.3" lengthAdjust="spacingAndGlyphs">1E-9</text>
<text x="60.30" y="402.38" font-size="10.5" text-anchor="end" font-weight="normal" fill="#222" textLength="15.3" lengthAdjust="spacingAndGlyphs">1E-8</text>
<text x="60.30" y="365.09" font-size="10.5" text-anchor="end" font-weight="normal" fill="#222" textLength="15.3" lengthAdjust="spacingAndGlyphs">1E-7</text>
<text x="60.30" y="327.80" font-size="10.5" text-anchor="end" font-weight="normal" fill="#222" textLength="15.3" lengthAdjust="spacingAndGlyphs">1E-6</text>
</g>
<g id="d">
<clipPath id="clipcirc"><rect x="425" y="306.5" width="243.5" height="297.79999999999995"/></clipPath><g clip-path="url(#clipcirc)">
<polyline points="425.00,556.59 428.25,556.88 431.49,557.14 434.74,557.38 437.99,557.60 441.24,557.79 444.48,557.97 447.73,558.13 450.98,558.28 454.22,558.41 457.47,558.53 460.72,558.63 463.96,558.73 467.21,558.82 470.46,558.90 473.70,558.97 476.95,559.04 480.20,559.09 483.45,559.15 486.69,559.20 489.94,559.24 493.19,559.28 496.43,559.31 499.68,559.35 502.93,559.38 506.17,559.40 509.42,559.43 512.67,559.45 515.92,559.47 519.16,559.49 522.41,559.50 525.66,559.52 528.90,559.53 532.15,559.54 535.40,559.55 538.64,481.01 541.89,463.42 545.14,427.66 548.39,407.64 551.63,394.87 554.88,385.50 558.13,378.26 561.37,372.09 564.62,366.34 567.87,362.08 571.12,359.83 574.36,356.49 577.61,353.42 580.86,350.58 584.10,347.93 587.35,345.45 590.60,343.13 593.84,340.93 597.09,338.86 600.34,336.89 603.59,335.02 606.83,333.23 610.08,331.53 613.33,329.90 616.57,328.33 619.82,326.82 623.07,325.38 626.31,323.98 629.56,322.63 632.81,321.33 636.05,320.07 639.30,318.86 642.55,317.68 645.80,316.53 649.04,315.42 652.29,314.34 655.54,313.29 658.78,312.26 662.03,311.27 665.28,310.29 668.52,309.35" fill="none" stroke="#8a8a8a" stroke-width="1"/>
<ellipse cx="425.00" cy="556.59" rx="2.6" ry="3.6" fill="#ff0000"/>
<ellipse cx="428.25" cy="556.88" rx="2.6" ry="3.6" fill="#ff0000"/>
<ellipse cx="431.49" cy="557.14" rx="2.6" ry="3.6" fill="#ff0000"/>
<ellipse cx="434.74" cy="557.38" rx="2.6" ry="3.6" fill="#ff0000"/>
<ellipse cx="437.99" cy="557.60" rx="2.6" ry="3.6" fill="#ff0000"/>
<ellipse cx="441.24" cy="557.79" rx="2.6" ry="3.6" fill="#ff0000"/>
<ellipse cx="444.48" cy="557.97" rx="2.6" ry="3.6" fill="#ff0000"/>
<ellipse cx="447.73" cy="558.13" rx="2.6" ry="3.6" fill="#ff0000"/>
<ellipse cx="450.98" cy="558.28" rx="2.6" ry="3.6" fill="#ff0000"/>
<ellipse cx="454.22" cy="558.41" rx="2.6" ry="3.6" fill="#ff0000"/>
<ellipse cx="457.47" cy="558.53" rx="2.6" ry="3.6" fill="#ff0000"/>
<ellipse cx="460.72" cy="558.63" rx="2.6" ry="3.6" fill="#ff0000"/>
<ellipse cx="463.96" cy="558.73" rx="2.6" ry="3.6" fill="#ff0000"/>
<ellipse cx="467.21" cy="558.82" rx="2.6" ry="3.6" fill="#ff0000"/>
<ellipse cx="470.46" cy="558.90" rx="2.6" ry="3.6" fill="#ff0000"/>
<ellipse cx="473.70" cy="558.97" rx="2.6" ry="3.6" fill="#ff0000"/>
<ellipse cx="476.95" cy="559.04" rx="2.6" ry="3.6" fill="#ff0000"/>
<ellipse cx="480.20" cy="559.09" rx="2.6" ry="3.6" fill="#ff0000"/>
<ellipse cx="483.45" cy="559.15" rx="2.6" ry="3.6" fill="#ff0000"/>
<ellipse cx="486.69" cy="559.20" rx="2.6" ry="3.6" fill="#ff0000"/>
<ellipse cx="489.94" cy="559.24" rx="2.6" ry="3.6" fill="#ff0000"/>
<ellipse cx="493.19" cy="559.28" rx="2.6" ry="3.6" fill="#ff0000"/>
<ellipse cx="496.43" cy="559.31" rx="2.6" ry="3.6" fill="#ff0000"/>
<ellipse cx="499.68" cy="559.35" rx="2.6" ry="3.6" fill="#ff0000"/>
<ellipse cx="502.93" cy="559.38" rx="2.6" ry="3.6" fill="#ff0000"/>
<ellipse cx="506.17" cy="559.40" rx="2.6" ry="3.6" fill="#ff0000"/>
<ellipse cx="509.42" cy="559.43" rx="2.6" ry="3.6" fill="#ff0000"/>
<ellipse cx="512.67" cy="559.45" rx="2.6" ry="3.6" fill="#ff0000"/>
<ellipse cx="515.92" cy="559.47" rx="2.6" ry="3.6" fill="#ff0000"/>
<ellipse cx="519.16" cy="559.49" rx="2.6" ry="3.6" fill="#ff0000"/>
<ellipse cx="522.41" cy="559.50" rx="2.6" ry="3.6" fill="#ff0000"/>
<ellipse cx="525.66" cy="559.52" rx="2.6" ry="3.6" fill="#ff0000"/>
<ellipse cx="528.90" cy="559.53" rx="2.6" ry="3.6" fill="#ff0000"/>
<ellipse cx="532.15" cy="559.54" rx="2.6" ry="3.6" fill="#ff0000"/>
<ellipse cx="535.40" cy="559.55" rx="2.6" ry="3.6" fill="#ff0000"/>
<ellipse cx="538.64" cy="481.01" rx="2.6" ry="3.6" fill="#ff0000"/>
<ellipse cx="541.89" cy="463.42" rx="2.6" ry="3.6" fill="#ff0000"/>
<ellipse cx="545.14" cy="427.66" rx="2.6" ry="3.6" fill="#ff0000"/>
<ellipse cx="548.39" cy="407.64" rx="2.6" ry="3.6" fill="#ff0000"/>
<ellipse cx="551.63" cy="394.87" rx="2.6" ry="3.6" fill="#ff0000"/>
<ellipse cx="554.88" cy="385.50" rx="2.6" ry="3.6" fill="#ff0000"/>
<ellipse cx="558.13" cy="378.26" rx="2.6" ry="3.6" fill="#ff0000"/>
<ellipse cx="561.37" cy="372.09" rx="2.6" ry="3.6" fill="#ff0000"/>
<ellipse cx="564.62" cy="366.34" rx="2.6" ry="3.6" fill="#ff0000"/>
<ellipse cx="567.87" cy="362.08" rx="2.6" ry="3.6" fill="#ff0000"/>
<ellipse cx="571.12" cy="359.83" rx="2.6" ry="3.6" fill="#ff0000"/>
<ellipse cx="574.36" cy="356.49" rx="2.6" ry="3.6" fill="#ff0000"/>
<ellipse cx="577.61" cy="353.42" rx="2.6" ry="3.6" fill="#ff0000"/>
<ellipse cx="580.86" cy="350.58" rx="2.6" ry="3.6" fill="#ff0000"/>
<ellipse cx="584.10" cy="347.93" rx="2.6" ry="3.6" fill="#ff0000"/>
<ellipse cx="587.35" cy="345.45" rx="2.6" ry="3.6" fill="#ff0000"/>
<ellipse cx="590.60" cy="343.13" rx="2.6" ry="3.6" fill="#ff0000"/>
<ellipse cx="593.84" cy="340.93" rx="2.6" ry="3.6" fill="#ff0000"/>
<ellipse cx="597.09" cy="338.86" rx="2.6" ry="3.6" fill="#ff0000"/>
<ellipse cx="600.34" cy="336.89" rx="2.6" ry="3.6" fill="#ff0000"/>
<ellipse cx="603.59" cy="335.02" rx="2.6" ry="3.6" fill="#ff0000"/>
<ellipse cx="606.83" cy="333.23" rx="2.6" ry="3.6" fill="#ff0000"/>
<ellipse cx="610.08" cy="331.53" rx="2.6" ry="3.6" fill="#ff0000"/>
<ellipse cx="613.33" cy="329.90" rx="2.6" ry="3.6" fill="#ff0000"/>
<ellipse cx="616.57" cy="328.33" rx="2.6" ry="3.6" fill="#ff0000"/>
<ellipse cx="619.82" cy="326.82" rx="2.6" ry="3.6" fill="#ff0000"/>
<ellipse cx="623.07" cy="325.38" rx="2.6" ry="3.6" fill="#ff0000"/>
<ellipse cx="626.31" cy="323.98" rx="2.6" ry="3.6" fill="#ff0000"/>
<ellipse cx="629.56" cy="322.63" rx="2.6" ry="3.6" fill="#ff0000"/>
<ellipse cx="632.81" cy="321.33" rx="2.6" ry="3.6" fill="#ff0000"/>
<ellipse cx="636.05" cy="320.07" rx="2.6" ry="3.6" fill="#ff0000"/>
<ellipse cx="639.30" cy="318.86" rx="2.6" ry="3.6" fill="#ff0000"/>
<ellipse cx="642.55" cy="317.68" rx="2.6" ry="3.6" fill="#ff0000"/>
<ellipse cx="645.80" cy="316.53" rx="2.6" ry="3.6" fill="#ff0000"/>
<ellipse cx="649.04" cy="315.42" rx="2.6" ry="3.6" fill="#ff0000"/>
<ellipse cx="652.29" cy="314.34" rx="2.6" ry="3.6" fill="#ff0000"/>
<ellipse cx="655.54" cy="313.29" rx="2.6" ry="3.6" fill="#ff0000"/>
<ellipse cx="658.78" cy="312.26" rx="2.6" ry="3.6" fill="#ff0000"/>
<ellipse cx="662.03" cy="311.27" rx="2.6" ry="3.6" fill="#ff0000"/>
<ellipse cx="665.28" cy="310.29" rx="2.6" ry="3.6" fill="#ff0000"/>
<ellipse cx="668.52" cy="309.35" rx="2.6" ry="3.6" fill="#ff0000"/>
</g>
<rect x="425" y="306.5" width="243.5" height="297.79999999999995" fill="none" stroke="#1a1a1a" stroke-width="1.15"/>
<line x1="441.24" y1="604.3" x2="441.24" y2="598.8" stroke="#1a1a1a" stroke-width="0.9"/>
<line x1="441.24" y1="306.5" x2="441.24" y2="312.0" stroke="#1a1a1a" stroke-width="0.9"/>
<text x="441.54" y="620.10" font-size="11.5" text-anchor="middle" font-weight="normal" fill="#222" textLength="10.4" lengthAdjust="spacingAndGlyphs">-30</text>
<line x1="457.47" y1="604.3" x2="457.47" y2="601.0999999999999" stroke="#1a1a1a" stroke-width="0.9"/>
<line x1="457.47" y1="306.5" x2="457.47" y2="309.7" stroke="#1a1a1a" stroke-width="0.9"/>
<line x1="473.70" y1="604.3" x2="473.70" y2="598.8" stroke="#1a1a1a" stroke-width="0.9"/>
<line x1="473.70" y1="306.5" x2="473.70" y2="312.0" stroke="#1a1a1a" stroke-width="0.9"/>
<text x="474.00" y="620.10" font-size="11.5" text-anchor="middle" font-weight="normal" fill="#222" textLength="10.4" lengthAdjust="spacingAndGlyphs">-20</text>
<line x1="489.94" y1="604.3" x2="489.94" y2="601.0999999999999" stroke="#1a1a1a" stroke-width="0.9"/>
<line x1="489.94" y1="306.5" x2="489.94" y2="309.7" stroke="#1a1a1a" stroke-width="0.9"/>
<line x1="506.17" y1="604.3" x2="506.17" y2="598.8" stroke="#1a1a1a" stroke-width="0.9"/>
<line x1="506.17" y1="306.5" x2="506.17" y2="312.0" stroke="#1a1a1a" stroke-width="0.9"/>
<text x="506.47" y="620.10" font-size="11.5" text-anchor="middle" font-weight="normal" fill="#222" textLength="10.4" lengthAdjust="spacingAndGlyphs">-10</text>
<line x1="522.41" y1="604.3" x2="522.41" y2="601.0999999999999" stroke="#1a1a1a" stroke-width="0.9"/>
<line x1="522.41" y1="306.5" x2="522.41" y2="309.7" stroke="#1a1a1a" stroke-width="0.9"/>
<line x1="538.64" y1="604.3" x2="538.64" y2="598.8" stroke="#1a1a1a" stroke-width="0.9"/>
<line x1="538.64" y1="306.5" x2="538.64" y2="312.0" stroke="#1a1a1a" stroke-width="0.9"/>
<text x="538.64" y="620.10" font-size="11.5" text-anchor="middle" font-weight="normal" fill="#222" textLength="3.9" lengthAdjust="spacingAndGlyphs">0</text>
<line x1="554.88" y1="604.3" x2="554.88" y2="601.0999999999999" stroke="#1a1a1a" stroke-width="0.9"/>
<line x1="554.88" y1="306.5" x2="554.88" y2="309.7" stroke="#1a1a1a" stroke-width="0.9"/>
<line x1="571.12" y1="604.3" x2="571.12" y2="598.8" stroke="#1a1a1a" stroke-width="0.9"/>
<line x1="571.12" y1="306.5" x2="571.12" y2="312.0" stroke="#1a1a1a" stroke-width="0.9"/>
<text x="571.12" y="620.10" font-size="11.5" text-anchor="middle" font-weight="normal" fill="#222" textLength="7.8" lengthAdjust="spacingAndGlyphs">10</text>
<line x1="587.35" y1="604.3" x2="587.35" y2="601.0999999999999" stroke="#1a1a1a" stroke-width="0.9"/>
<line x1="587.35" y1="306.5" x2="587.35" y2="309.7" stroke="#1a1a1a" stroke-width="0.9"/>
<line x1="603.59" y1="604.3" x2="603.59" y2="598.8" stroke="#1a1a1a" stroke-width="0.9"/>
<line x1="603.59" y1="306.5" x2="603.59" y2="312.0" stroke="#1a1a1a" stroke-width="0.9"/>
<text x="603.59" y="620.10" font-size="11.5" text-anchor="middle" font-weight="normal" fill="#222" textLength="7.8" lengthAdjust="spacingAndGlyphs">20</text>
<line x1="619.82" y1="604.3" x2="619.82" y2="601.0999999999999" stroke="#1a1a1a" stroke-width="0.9"/>
<line x1="619.82" y1="306.5" x2="619.82" y2="309.7" stroke="#1a1a1a" stroke-width="0.9"/>
<line x1="636.05" y1="604.3" x2="636.05" y2="598.8" stroke="#1a1a1a" stroke-width="0.9"/>
<line x1="636.05" y1="306.5" x2="636.05" y2="312.0" stroke="#1a1a1a" stroke-width="0.9"/>
<text x="636.05" y="620.10" font-size="11.5" text-anchor="middle" font-weight="normal" fill="#222" textLength="7.8" lengthAdjust="spacingAndGlyphs">30</text>
<line x1="652.29" y1="604.3" x2="652.29" y2="601.0999999999999" stroke="#1a1a1a" stroke-width="0.9"/>
<line x1="652.29" y1="306.5" x2="652.29" y2="309.7" stroke="#1a1a1a" stroke-width="0.9"/>
<text x="668.52" y="620.10" font-size="11.5" text-anchor="middle" font-weight="normal" fill="#222" textLength="7.8" lengthAdjust="spacingAndGlyphs">40</text>
<line x1="425" y1="603.04" x2="427.4" y2="603.04" stroke="#1a1a1a" stroke-width="0.9"/>
<line x1="668.5" y1="603.04" x2="666.1" y2="603.04" stroke="#1a1a1a" stroke-width="0.9"/>
<line x1="425" y1="595.54" x2="427.4" y2="595.54" stroke="#1a1a1a" stroke-width="0.9"/>
<line x1="668.5" y1="595.54" x2="666.1" y2="595.54" stroke="#1a1a1a" stroke-width="0.9"/>
<line x1="425" y1="590.22" x2="427.4" y2="590.22" stroke="#1a1a1a" stroke-width="0.9"/>
<line x1="668.5" y1="590.22" x2="666.1" y2="590.22" stroke="#1a1a1a" stroke-width="0.9"/>
<line x1="425" y1="586.10" x2="427.4" y2="586.10" stroke="#1a1a1a" stroke-width="0.9"/>
<line x1="668.5" y1="586.10" x2="666.1" y2="586.10" stroke="#1a1a1a" stroke-width="0.9"/>
<line x1="425" y1="582.73" x2="427.4" y2="582.73" stroke="#1a1a1a" stroke-width="0.9"/>
<line x1="668.5" y1="582.73" x2="666.1" y2="582.73" stroke="#1a1a1a" stroke-width="0.9"/>
<line x1="425" y1="579.88" x2="427.4" y2="579.88" stroke="#1a1a1a" stroke-width="0.9"/>
<line x1="668.5" y1="579.88" x2="666.1" y2="579.88" stroke="#1a1a1a" stroke-width="0.9"/>
<line x1="425" y1="577.41" x2="427.4" y2="577.41" stroke="#1a1a1a" stroke-width="0.9"/>
<line x1="668.5" y1="577.41" x2="666.1" y2="577.41" stroke="#1a1a1a" stroke-width="0.9"/>
<line x1="425" y1="575.23" x2="427.4" y2="575.23" stroke="#1a1a1a" stroke-width="0.9"/>
<line x1="668.5" y1="575.23" x2="666.1" y2="575.23" stroke="#1a1a1a" stroke-width="0.9"/>
<line x1="425" y1="573.28" x2="429.2" y2="573.28" stroke="#1a1a1a" stroke-width="0.9"/>
<line x1="668.5" y1="573.28" x2="664.3" y2="573.28" stroke="#1a1a1a" stroke-width="0.9"/>
<line x1="425" y1="560.46" x2="427.4" y2="560.46" stroke="#1a1a1a" stroke-width="0.9"/>
<line x1="668.5" y1="560.46" x2="666.1" y2="560.46" stroke="#1a1a1a" stroke-width="0.9"/>
<line x1="425" y1="552.96" x2="427.4" y2="552.96" stroke="#1a1a1a" stroke-width="0.9"/>
<line x1="668.5" y1="552.96" x2="666.1" y2="552.96" stroke="#1a1a1a" stroke-width="0.9"/>
<line x1="425" y1="547.64" x2="427.4" y2="547.64" stroke="#1a1a1a" stroke-width="0.9"/>
<line x1="668.5" y1="547.64" x2="666.1" y2="547.64" stroke="#1a1a1a" stroke-width="0.9"/>
<line x1="425" y1="543.52" x2="427.4" y2="543.52" stroke="#1a1a1a" stroke-width="0.9"/>
<line x1="668.5" y1="543.52" x2="666.1" y2="543.52" stroke="#1a1a1a" stroke-width="0.9"/>
<line x1="425" y1="540.15" x2="427.4" y2="540.15" stroke="#1a1a1a" stroke-width="0.9"/>
<line x1="668.5" y1="540.15" x2="666.1" y2="540.15" stroke="#1a1a1a" stroke-width="0.9"/>
<line x1="425" y1="537.30" x2="427.4" y2="537.30" stroke="#1a1a1a" stroke-width="0.9"/>
<line x1="668.5" y1="537.30" x2="666.1" y2="537.30" stroke="#1a1a1a" stroke-width="0.9"/>
<line x1="425" y1="534.83" x2="427.4" y2="534.83" stroke="#1a1a1a" stroke-width="0.9"/>
<line x1="668.5" y1="534.83" x2="666.1" y2="534.83" stroke="#1a1a1a" stroke-width="0.9"/>
<line x1="425" y1="532.65" x2="427.4" y2="532.65" stroke="#1a1a1a" stroke-width="0.9"/>
<line x1="668.5" y1="532.65" x2="666.1" y2="532.65" stroke="#1a1a1a" stroke-width="0.9"/>
<line x1="425" y1="530.70" x2="429.2" y2="530.70" stroke="#1a1a1a" stroke-width="0.9"/>
<line x1="668.5" y1="530.70" x2="664.3" y2="530.70" stroke="#1a1a1a" stroke-width="0.9"/>
<line x1="425" y1="517.88" x2="427.4" y2="517.88" stroke="#1a1a1a" stroke-width="0.9"/>
<line x1="668.5" y1="517.88" x2="666.1" y2="517.88" stroke="#1a1a1a" stroke-width="0.9"/>
<line x1="425" y1="510.38" x2="427.4" y2="510.38" stroke="#1a1a1a" stroke-width="0.9"/>
<line x1="668.5" y1="510.38" x2="666.1" y2="510.38" stroke="#1a1a1a" stroke-width="0.9"/>
<line x1="425" y1="505.06" x2="427.4" y2="505.06" stroke="#1a1a1a" stroke-width="0.9"/>
<line x1="668.5" y1="505.06" x2="666.1" y2="505.06" stroke="#1a1a1a" stroke-width="0.9"/>
<line x1="425" y1="500.94" x2="427.4" y2="500.94" stroke="#1a1a1a" stroke-width="0.9"/>
<line x1="668.5" y1="500.94" x2="666.1" y2="500.94" stroke="#1a1a1a" stroke-width="0.9"/>
<line x1="425" y1="497.57" x2="427.4" y2="497.57" stroke="#1a1a1a" stroke-width="0.9"/>
<line x1="668.5" y1="497.57" x2="666.1" y2="497.57" stroke="#1a1a1a" stroke-width="0.9"/>
<line x1="425" y1="494.72" x2="427.4" y2="494.72" stroke="#1a1a1a" stroke-width="0.9"/>
<line x1="668.5" y1="494.72" x2="666.1" y2="494.72" stroke="#1a1a1a" stroke-width="0.9"/>
<line x1="425" y1="492.25" x2="427.4" y2="492.25" stroke="#1a1a1a" stroke-width="0.9"/>
<line x1="668.5" y1="492.25" x2="666.1" y2="492.25" stroke="#1a1a1a" stroke-width="0.9"/>
<line x1="425" y1="490.07" x2="427.4" y2="490.07" stroke="#1a1a1a" stroke-width="0.9"/>
<line x1="668.5" y1="490.07" x2="666.1" y2="490.07" stroke="#1a1a1a" stroke-width="0.9"/>
<line x1="425" y1="488.12" x2="429.2" y2="488.12" stroke="#1a1a1a" stroke-width="0.9"/>
<line x1="668.5" y1="488.12" x2="664.3" y2="488.12" stroke="#1a1a1a" stroke-width="0.9"/>
<line x1="425" y1="475.30" x2="427.4" y2="475.30" stroke="#1a1a1a" stroke-width="0.9"/>
<line x1="668.5" y1="475.30" x2="666.1" y2="475.30" stroke="#1a1a1a" stroke-width="0.9"/>
<line x1="425" y1="467.80" x2="427.4" y2="467.80" stroke="#1a1a1a" stroke-width="0.9"/>
<line x1="668.5" y1="467.80" x2="666.1" y2="467.80" stroke="#1a1a1a" stroke-width="0.9"/>
<line x1="425" y1="462.48" x2="427.4" y2="462.48" stroke="#1a1a1a" stroke-width="0.9"/>
<line x1="668.5" y1="462.48" x2="666.1" y2="462.48" stroke="#1a1a1a" stroke-width="0.9"/>
<line x1="425" y1="458.36" x2="427.4" y2="458.36" stroke="#1a1a1a" stroke-width="0.9"/>
<line x1="668.5" y1="458.36" x2="666.1" y2="458.36" stroke="#1a1a1a" stroke-width="0.9"/>
<line x1="425" y1="454.99" x2="427.4" y2="454.99" stroke="#1a1a1a" stroke-width="0.9"/>
<line x1="668.5" y1="454.99" x2="666.1" y2="454.99" stroke="#1a1a1a" stroke-width="0.9"/>
<line x1="425" y1="452.14" x2="427.4" y2="452.14" stroke="#1a1a1a" stroke-width="0.9"/>
<line x1="668.5" y1="452.14" x2="666.1" y2="452.14" stroke="#1a1a1a" stroke-width="0.9"/>
<line x1="425" y1="449.67" x2="427.4" y2="449.67" stroke="#1a1a1a" stroke-width="0.9"/>
<line x1="668.5" y1="449.67" x2="666.1" y2="449.67" stroke="#1a1a1a" stroke-width="0.9"/>
<line x1="425" y1="447.49" x2="427.4" y2="447.49" stroke="#1a1a1a" stroke-width="0.9"/>
<line x1="668.5" y1="447.49" x2="666.1" y2="447.49" stroke="#1a1a1a" stroke-width="0.9"/>
<line x1="425" y1="445.54" x2="429.2" y2="445.54" stroke="#1a1a1a" stroke-width="0.9"/>
<line x1="668.5" y1="445.54" x2="664.3" y2="445.54" stroke="#1a1a1a" stroke-width="0.9"/>
<line x1="425" y1="432.72" x2="427.4" y2="432.72" stroke="#1a1a1a" stroke-width="0.9"/>
<line x1="668.5" y1="432.72" x2="666.1" y2="432.72" stroke="#1a1a1a" stroke-width="0.9"/>
<line x1="425" y1="425.22" x2="427.4" y2="425.22" stroke="#1a1a1a" stroke-width="0.9"/>
<line x1="668.5" y1="425.22" x2="666.1" y2="425.22" stroke="#1a1a1a" stroke-width="0.9"/>
<line x1="425" y1="419.90" x2="427.4" y2="419.90" stroke="#1a1a1a" stroke-width="0.9"/>
<line x1="668.5" y1="419.90" x2="666.1" y2="419.90" stroke="#1a1a1a" stroke-width="0.9"/>
<line x1="425" y1="415.78" x2="427.4" y2="415.78" stroke="#1a1a1a" stroke-width="0.9"/>
<line x1="668.5" y1="415.78" x2="666.1" y2="415.78" stroke="#1a1a1a" stroke-width="0.9"/>
<line x1="425" y1="412.41" x2="427.4" y2="412.41" stroke="#1a1a1a" stroke-width="0.9"/>
<line x1="668.5" y1="412.41" x2="666.1" y2="412.41" stroke="#1a1a1a" stroke-width="0.9"/>
<line x1="425" y1="409.56" x2="427.4" y2="409.56" stroke="#1a1a1a" stroke-width="0.9"/>
<line x1="668.5" y1="409.56" x2="666.1" y2="409.56" stroke="#1a1a1a" stroke-width="0.9"/>
<line x1="425" y1="407.09" x2="427.4" y2="407.09" stroke="#1a1a1a" stroke-width="0.9"/>
<line x1="668.5" y1="407.09" x2="666.1" y2="407.09" stroke="#1a1a1a" stroke-width="0.9"/>
<line x1="425" y1="404.91" x2="427.4" y2="404.91" stroke="#1a1a1a" stroke-width="0.9"/>
<line x1="668.5" y1="404.91" x2="666.1" y2="404.91" stroke="#1a1a1a" stroke-width="0.9"/>
<line x1="425" y1="402.96" x2="429.2" y2="402.96" stroke="#1a1a1a" stroke-width="0.9"/>
<line x1="668.5" y1="402.96" x2="664.3" y2="402.96" stroke="#1a1a1a" stroke-width="0.9"/>
<line x1="425" y1="390.14" x2="427.4" y2="390.14" stroke="#1a1a1a" stroke-width="0.9"/>
<line x1="668.5" y1="390.14" x2="666.1" y2="390.14" stroke="#1a1a1a" stroke-width="0.9"/>
<line x1="425" y1="382.64" x2="427.4" y2="382.64" stroke="#1a1a1a" stroke-width="0.9"/>
<line x1="668.5" y1="382.64" x2="666.1" y2="382.64" stroke="#1a1a1a" stroke-width="0.9"/>
<line x1="425" y1="377.32" x2="427.4" y2="377.32" stroke="#1a1a1a" stroke-width="0.9"/>
<line x1="668.5" y1="377.32" x2="666.1" y2="377.32" stroke="#1a1a1a" stroke-width="0.9"/>
<line x1="425" y1="373.20" x2="427.4" y2="373.20" stroke="#1a1a1a" stroke-width="0.9"/>
<line x1="668.5" y1="373.20" x2="666.1" y2="373.20" stroke="#1a1a1a" stroke-width="0.9"/>
<line x1="425" y1="369.83" x2="427.4" y2="369.83" stroke="#1a1a1a" stroke-width="0.9"/>
<line x1="668.5" y1="369.83" x2="666.1" y2="369.83" stroke="#1a1a1a" stroke-width="0.9"/>
<line x1="425" y1="366.98" x2="427.4" y2="366.98" stroke="#1a1a1a" stroke-width="0.9"/>
<line x1="668.5" y1="366.98" x2="666.1" y2="366.98" stroke="#1a1a1a" stroke-width="0.9"/>
<line x1="425" y1="364.51" x2="427.4" y2="364.51" stroke="#1a1a1a" stroke-width="0.9"/>
<line x1="668.5" y1="364.51" x2="666.1" y2="364.51" stroke="#1a1a1a" stroke-width="0.9"/>
<line x1="425" y1="362.33" x2="427.4" y2="362.33" stroke="#1a1a1a" stroke-width="0.9"/>
<line x1="668.5" y1="362.33" x2="666.1" y2="362.33" stroke="#1a1a1a" stroke-width="0.9"/>
<line x1="425" y1="360.38" x2="429.2" y2="360.38" stroke="#1a1a1a" stroke-width="0.9"/>
<line x1="668.5" y1="360.38" x2="664.3" y2="360.38" stroke="#1a1a1a" stroke-width="0.9"/>
<line x1="425" y1="347.56" x2="427.4" y2="347.56" stroke="#1a1a1a" stroke-width="0.9"/>
<line x1="668.5" y1="347.56" x2="666.1" y2="347.56" stroke="#1a1a1a" stroke-width="0.9"/>
<line x1="425" y1="340.06" x2="427.4" y2="340.06" stroke="#1a1a1a" stroke-width="0.9"/>
<line x1="668.5" y1="340.06" x2="666.1" y2="340.06" stroke="#1a1a1a" stroke-width="0.9"/>
<line x1="425" y1="334.74" x2="427.4" y2="334.74" stroke="#1a1a1a" stroke-width="0.9"/>
<line x1="668.5" y1="334.74" x2="666.1" y2="334.74" stroke="#1a1a1a" stroke-width="0.9"/>
<line x1="425" y1="330.62" x2="427.4" y2="330.62" stroke="#1a1a1a" stroke-width="0.9"/>
<line x1="668.5" y1="330.62" x2="666.1" y2="330.62" stroke="#1a1a1a" stroke-width="0.9"/>
<line x1="425" y1="327.25" x2="427.4" y2="327.25" stroke="#1a1a1a" stroke-width="0.9"/>
<line x1="668.5" y1="327.25" x2="666.1" y2="327.25" stroke="#1a1a1a" stroke-width="0.9"/>
<line x1="425" y1="324.40" x2="427.4" y2="324.40" stroke="#1a1a1a" stroke-width="0.9"/>
<line x1="668.5" y1="324.40" x2="666.1" y2="324.40" stroke="#1a1a1a" stroke-width="0.9"/>
<line x1="425" y1="321.93" x2="427.4" y2="321.93" stroke="#1a1a1a" stroke-width="0.9"/>
<line x1="668.5" y1="321.93" x2="666.1" y2="321.93" stroke="#1a1a1a" stroke-width="0.9"/>
<line x1="425" y1="319.75" x2="427.4" y2="319.75" stroke="#1a1a1a" stroke-width="0.9"/>
<line x1="668.5" y1="319.75" x2="666.1" y2="319.75" stroke="#1a1a1a" stroke-width="0.9"/>
<line x1="425" y1="317.80" x2="429.2" y2="317.80" stroke="#1a1a1a" stroke-width="0.9"/>
<line x1="668.5" y1="317.80" x2="664.3" y2="317.80" stroke="#1a1a1a" stroke-width="0.9"/>
<text x="420.50" y="576.28" font-size="10.5" text-anchor="end" font-weight="normal" fill="#222" textLength="18.3" lengthAdjust="spacingAndGlyphs">1E-12</text>
<text x="420.50" y="533.70" font-size="10.5" text-anchor="end" font-weight="normal" fill="#222" textLength="18.3" lengthAdjust="spacingAndGlyphs">1E-11</text>
<text x="420.50" y="491.12" font-size="10.5" text-anchor="end" font-weight="normal" fill="#222" textLength="18.3" lengthAdjust="spacingAndGlyphs">1E-10</text>
<text x="420.50" y="448.54" font-size="10.5" text-anchor="end" font-weight="normal" fill="#222" textLength="14.0" lengthAdjust="spacingAndGlyphs">1E-9</text>
<text x="420.50" y="405.96" font-size="10.5" text-anchor="end" font-weight="normal" fill="#222" textLength="14.0" lengthAdjust="spacingAndGlyphs">1E-8</text>
<text x="420.50" y="363.38" font-size="10.5" text-anchor="end" font-weight="normal" fill="#222" textLength="14.0" lengthAdjust="spacingAndGlyphs">1E-7</text>
<text x="420.50" y="320.80" font-size="10.5" text-anchor="end" font-weight="normal" fill="#222" textLength="14.0" lengthAdjust="spacingAndGlyphs">1E-6</text>
</g>
<line x1="78" y1="335.2" x2="104" y2="335.2" stroke="#555" stroke-width="0.8"/>
<rect x="88.6" y="331.8" width="4.8" height="6.8" fill="#0000ff"/>
<text x="107.40" y="341.00" font-size="15" text-anchor="start" font-weight="normal" fill="#222" textLength="19.8" lengthAdjust="spacingAndGlyphs">SiN</text>
<text x="127.40" y="347.50" font-size="11" text-anchor="start" font-weight="normal" fill="#222" textLength="5.2" lengthAdjust="spacingAndGlyphs">X</text>
<text x="135.60" y="341.00" font-size="15" text-anchor="start" font-weight="normal" fill="#222" textLength="20.4" lengthAdjust="spacingAndGlyphs">TFT</text>
<line x1="442.4" y1="335.3" x2="464.3" y2="335.3" stroke="#555" stroke-width="0.8"/>
<ellipse cx="453" cy="335.3" rx="2.6" ry="3.6" fill="#ff0000"/>
<text x="467.70" y="340.40" font-size="14.5" text-anchor="start" font-weight="normal" fill="#222" textLength="17.8" lengthAdjust="spacingAndGlyphs">SiO</text>
<text x="486.20" y="347.50" font-size="12" text-anchor="start" font-weight="normal" fill="#222" textLength="5.1" lengthAdjust="spacingAndGlyphs">2</text>
<text x="495.30" y="340.40" font-size="14.5" text-anchor="start" font-weight="normal" fill="#222" textLength="19.4" lengthAdjust="spacingAndGlyphs">TFT</text>
<text transform="translate(31.5 555) rotate(-90) scale(0.78 1)" font-size="20" font-weight="bold" fill="#111" letter-spacing="3.20">Drain current (I<tspan font-size="12" dy="5.3">D</tspan><tspan dy="-5.3">, A)</tspan></text>
<text transform="translate(394 552) rotate(-90) scale(0.75 1)" font-size="19.5" font-weight="bold" fill="#111" letter-spacing="3.40">Drain current (I<tspan font-size="11.5" dy="5">D</tspan><tspan dy="-5">, A)</tspan></text>
<text x="124.9" y="649.8" font-size="19.6" font-weight="bold" fill="#111" textLength="121.3" lengthAdjust="spacingAndGlyphs">Gate voltage (V<tspan font-size="12.5" dy="7.5">g</tspan><tspan dy="-7.5">, V)</tspan></text>
<text x="496.3" y="645.7" font-size="19" font-weight="bold" fill="#111" textLength="110.6" lengthAdjust="spacingAndGlyphs">Gate voltage (V<tspan font-size="12.5" dy="7.5">g</tspan><tspan dy="-7.5">, V)</tspan></text>
<text x="184.80" y="680.50" font-size="15.5" text-anchor="middle" font-weight="normal" fill="#161616">(c)</text>
<text x="542.80" y="674.50" font-size="15.5" text-anchor="middle" font-weight="normal" fill="#161616">(d)</text>
</svg></body></html>
